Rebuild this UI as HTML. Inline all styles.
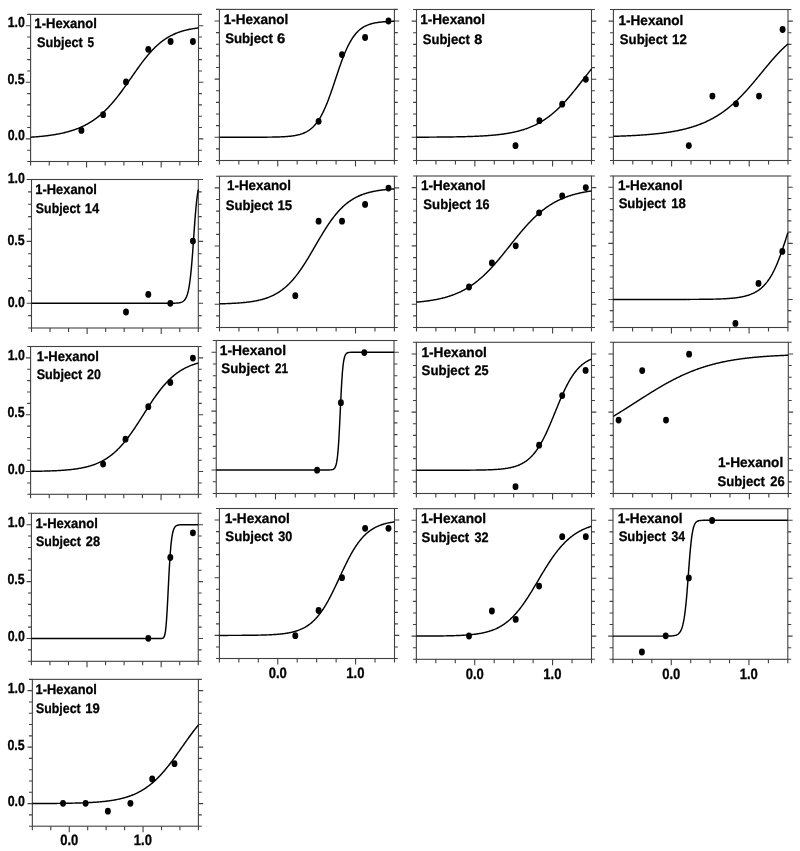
<!DOCTYPE html>
<html><head><meta charset="utf-8"><style>
html,body{margin:0;padding:0;background:#fff;}
svg{display:block;}
text{font-family:"Liberation Sans",sans-serif;font-weight:bold;fill:#000;text-rendering:geometricPrecision;stroke:#000;stroke-width:0.3px;stroke-linejoin:round;}
</style></head><body>
<svg width="800" height="851" viewBox="0 0 800 851">
<rect width="800" height="851" fill="#fff"/>
<g opacity="0.999">
<g><rect x="30.6" y="14.4" width="167.9" height="147.1" fill="none" stroke="#404040" stroke-width="1.1"/><path d="M27.2 161.5H30.6M198.5 161.5H201.9M27.2 150.18H30.6M198.5 150.18H201.9M25.8 138.87H30.6M198.5 138.87H203.3M27.2 127.55H30.6M198.5 127.55H201.9M27.2 116.24H30.6M198.5 116.24H201.9M27.2 104.92H30.6M198.5 104.92H201.9M27.2 93.61H30.6M198.5 93.61H201.9M25.8 82.29H30.6M198.5 82.29H203.3M27.2 70.98H30.6M198.5 70.98H201.9M27.2 59.66H30.6M198.5 59.66H201.9M27.2 48.35H30.6M198.5 48.35H201.9M27.2 37.03H30.6M198.5 37.03H201.9M25.8 25.72H30.6M198.5 25.72H203.3M27.2 14.4H30.6M198.5 14.4H201.9M30.6 161.5V165.5M49.26 161.5V165.5M67.91 161.5V165.5M86.57 161.5V167.5M105.22 161.5V165.5M123.88 161.5V165.5M142.53 161.5V165.5M161.19 161.5V167.5M179.84 161.5V165.5M198.5 161.5V165.5" stroke="#404040" stroke-width="1.1" fill="none"/><polyline points="30.6,137.21 31.16,137.17 31.72,137.13 32.28,137.09 32.84,137.05 33.4,137.01 33.96,136.97 34.52,136.93 35.08,136.89 35.64,136.85 36.2,136.8 36.76,136.75 37.32,136.71 37.88,136.66 38.44,136.61 39,136.56 39.55,136.51 40.11,136.46 40.67,136.4 41.23,136.35 41.79,136.29 42.35,136.24 42.91,136.18 43.47,136.12 44.03,136.06 44.59,136 45.15,135.93 45.71,135.87 46.27,135.8 46.83,135.73 47.39,135.67 47.95,135.59 48.51,135.52 49.07,135.45 49.63,135.37 50.19,135.3 50.75,135.22 51.31,135.14 51.87,135.05 52.43,134.97 52.99,134.88 53.55,134.8 54.11,134.71 54.67,134.61 55.23,134.52 55.78,134.43 56.34,134.33 56.9,134.23 57.46,134.13 58.02,134.02 58.58,133.91 59.14,133.81 59.7,133.69 60.26,133.58 60.82,133.46 61.38,133.35 61.94,133.22 62.5,133.1 63.06,132.97 63.62,132.85 64.18,132.71 64.74,132.58 65.3,132.44 65.86,132.3 66.42,132.16 66.98,132.01 67.54,131.86 68.1,131.71 68.66,131.55 69.22,131.39 69.78,131.23 70.34,131.06 70.9,130.89 71.46,130.72 72.02,130.54 72.58,130.36 73.13,130.18 73.69,129.99 74.25,129.79 74.81,129.6 75.37,129.4 75.93,129.19 76.49,128.98 77.05,128.77 77.61,128.55 78.17,128.33 78.73,128.1 79.29,127.87 79.85,127.63 80.41,127.39 80.97,127.15 81.53,126.9 82.09,126.64 82.65,126.38 83.21,126.11 83.77,125.84 84.33,125.56 84.89,125.28 85.45,124.99 86.01,124.7 86.57,124.4 87.13,124.09 87.69,123.78 88.25,123.46 88.81,123.14 89.37,122.81 89.92,122.47 90.48,122.13 91.04,121.78 91.6,121.42 92.16,121.06 92.72,120.69 93.28,120.32 93.84,119.93 94.4,119.54 94.96,119.14 95.52,118.74 96.08,118.33 96.64,117.91 97.2,117.48 97.76,117.05 98.32,116.61 98.88,116.16 99.44,115.7 100,115.24 100.56,114.76 101.12,114.28 101.68,113.8 102.24,113.3 102.8,112.79 103.36,112.28 103.92,111.76 104.48,111.23 105.04,110.7 105.6,110.15 106.16,109.6 106.71,109.04 107.27,108.47 107.83,107.89 108.39,107.31 108.95,106.71 109.51,106.11 110.07,105.5 110.63,104.88 111.19,104.26 111.75,103.63 112.31,102.98 112.87,102.33 113.43,101.68 113.99,101.01 114.55,100.34 115.11,99.66 115.67,98.97 116.23,98.28 116.79,97.58 117.35,96.87 117.91,96.16 118.47,95.43 119.03,94.71 119.59,93.97 120.15,93.23 120.71,92.49 121.27,91.73 121.83,90.98 122.39,90.22 122.94,89.45 123.5,88.68 124.06,87.9 124.62,87.12 125.18,86.34 125.74,85.55 126.3,84.76 126.86,83.97 127.42,83.17 127.98,82.37 128.54,81.57 129.1,80.77 129.66,79.96 130.22,79.16 130.78,78.35 131.34,77.55 131.9,76.74 132.46,75.94 133.02,75.13 133.58,74.33 134.14,73.52 134.7,72.72 135.26,71.92 135.82,71.13 136.38,70.33 136.94,69.54 137.5,68.76 138.06,67.97 138.62,67.2 139.18,66.42 139.74,65.65 140.29,64.89 140.85,64.13 141.41,63.37 141.97,62.63 142.53,61.88 143.09,61.15 143.65,60.42 144.21,59.7 144.77,58.99 145.33,58.28 145.89,57.58 146.45,56.89 147.01,56.21 147.57,55.54 148.13,54.87 148.69,54.21 149.25,53.56 149.81,52.93 150.37,52.3 150.93,51.67 151.49,51.06 152.05,50.46 152.61,49.87 153.17,49.29 153.73,48.71 154.29,48.15 154.85,47.59 155.41,47.05 155.97,46.52 156.53,45.99 157.08,45.48 157.64,44.97 158.2,44.47 158.76,43.99 159.32,43.51 159.88,43.05 160.44,42.59 161,42.14 161.56,41.7 162.12,41.28 162.68,40.86 163.24,40.45 163.8,40.04 164.36,39.65 164.92,39.27 165.48,38.9 166.04,38.53 166.6,38.17 167.16,37.82 167.72,37.48 168.28,37.15 168.84,36.83 169.4,36.51 169.96,36.2 170.52,35.9 171.08,35.61 171.64,35.33 172.2,35.05 172.76,34.78 173.31,34.51 173.87,34.26 174.43,34.01 174.99,33.76 175.55,33.52 176.11,33.29 176.67,33.07 177.23,32.85 177.79,32.64 178.35,32.43 178.91,32.23 179.47,32.04 180.03,31.85 180.59,31.66 181.15,31.48 181.71,31.31 182.27,31.14 182.83,30.97 183.39,30.81 183.95,30.66 184.51,30.51 185.07,30.36 185.63,30.22 186.19,30.08 186.75,29.95 187.31,29.82 187.87,29.69 188.43,29.57 188.99,29.45 189.55,29.33 190.1,29.22 190.66,29.11 191.22,29.01 191.78,28.91 192.34,28.81 192.9,28.71 193.46,28.62 194.02,28.53 194.58,28.44 195.14,28.35 195.7,28.27 196.26,28.19 196.82,28.11 197.38,28.04 197.94,27.96 198.5,27.89" fill="none" stroke="#000" stroke-width="1.45" stroke-linejoin="round"/><ellipse cx="81.4" cy="130.4" rx="2.95" ry="3.4" fill="#000"/><ellipse cx="103.1" cy="114.7" rx="2.95" ry="3.4" fill="#000"/><ellipse cx="126" cy="81.9" rx="2.95" ry="3.4" fill="#000"/><ellipse cx="148.3" cy="49.3" rx="2.95" ry="3.4" fill="#000"/><ellipse cx="170.6" cy="41.5" rx="2.95" ry="3.4" fill="#000"/><ellipse cx="192.9" cy="41.5" rx="2.95" ry="3.4" fill="#000"/><text transform="translate(34.36 28) scale(0.9474 1)" font-size="13.8">1-Hexanol</text><text transform="translate(36.94 46.6) scale(0.9212 1)" font-size="13.8">Subject</text><text transform="translate(87.58 46.6) scale(0.8528 1)" font-size="13.8">5</text><text transform="translate(7.65 140.47) scale(0.8500 1)" font-size="14.6">0.0</text><text transform="translate(7.47 83.89) scale(0.8500 1)" font-size="14.6">0.5</text><text transform="translate(7.65 27.32) scale(0.8500 1)" font-size="14.6">1.0</text></g>
<g><rect x="219.4" y="9.4" width="175" height="151.1" fill="none" stroke="#404040" stroke-width="1.1"/><path d="M216 160.5H219.4M394.4 160.5H397.8M216 148.88H219.4M394.4 148.88H397.8M214.6 137.25H219.4M394.4 137.25H399.2M216 125.63H219.4M394.4 125.63H397.8M216 114.01H219.4M394.4 114.01H397.8M216 102.38H219.4M394.4 102.38H397.8M216 90.76H219.4M394.4 90.76H397.8M214.6 79.14H219.4M394.4 79.14H399.2M216 67.52H219.4M394.4 67.52H397.8M216 55.89H219.4M394.4 55.89H397.8M216 44.27H219.4M394.4 44.27H397.8M216 32.65H219.4M394.4 32.65H397.8M214.6 21.02H219.4M394.4 21.02H399.2M216 9.4H219.4M394.4 9.4H397.8M219.4 160.5V164.5M238.84 160.5V164.5M258.29 160.5V164.5M277.73 160.5V166.5M297.18 160.5V164.5M316.62 160.5V164.5M336.07 160.5V164.5M355.51 160.5V166.5M374.96 160.5V164.5M394.4 160.5V164.5" stroke="#404040" stroke-width="1.1" fill="none"/><polyline points="219.4,137.25 219.98,137.25 220.57,137.25 221.15,137.25 221.73,137.25 222.32,137.25 222.9,137.25 223.48,137.25 224.07,137.25 224.65,137.25 225.23,137.25 225.82,137.25 226.4,137.25 226.98,137.25 227.57,137.25 228.15,137.25 228.73,137.25 229.32,137.25 229.9,137.25 230.48,137.25 231.07,137.25 231.65,137.25 232.23,137.25 232.82,137.25 233.4,137.25 233.98,137.25 234.57,137.25 235.15,137.25 235.73,137.25 236.32,137.25 236.9,137.25 237.48,137.25 238.07,137.25 238.65,137.25 239.23,137.25 239.82,137.25 240.4,137.25 240.98,137.25 241.57,137.25 242.15,137.25 242.73,137.25 243.32,137.25 243.9,137.25 244.48,137.24 245.07,137.24 245.65,137.24 246.23,137.24 246.82,137.24 247.4,137.24 247.98,137.24 248.57,137.24 249.15,137.24 249.73,137.24 250.32,137.24 250.9,137.24 251.48,137.23 252.07,137.23 252.65,137.23 253.23,137.23 253.82,137.23 254.4,137.23 254.98,137.23 255.57,137.22 256.15,137.22 256.73,137.22 257.32,137.22 257.9,137.22 258.48,137.21 259.07,137.21 259.65,137.21 260.23,137.21 260.82,137.2 261.4,137.2 261.98,137.2 262.57,137.19 263.15,137.19 263.73,137.19 264.32,137.18 264.9,137.18 265.48,137.17 266.07,137.17 266.65,137.16 267.23,137.16 267.82,137.15 268.4,137.14 268.98,137.14 269.57,137.13 270.15,137.12 270.73,137.11 271.32,137.1 271.9,137.1 272.48,137.09 273.07,137.07 273.65,137.06 274.23,137.05 274.82,137.04 275.4,137.03 275.98,137.01 276.57,137 277.15,136.98 277.73,136.96 278.32,136.95 278.9,136.93 279.48,136.91 280.07,136.88 280.65,136.86 281.23,136.84 281.82,136.81 282.4,136.78 282.98,136.75 283.57,136.72 284.15,136.69 284.73,136.66 285.32,136.62 285.9,136.58 286.48,136.54 287.07,136.49 287.65,136.45 288.23,136.4 288.82,136.34 289.4,136.29 289.98,136.23 290.57,136.16 291.15,136.1 291.73,136.02 292.32,135.95 292.9,135.87 293.48,135.78 294.07,135.69 294.65,135.6 295.23,135.49 295.82,135.39 296.4,135.27 296.98,135.15 297.57,135.02 298.15,134.89 298.73,134.74 299.32,134.59 299.9,134.43 300.48,134.25 301.07,134.07 301.65,133.88 302.23,133.68 302.82,133.46 303.4,133.23 303.98,132.99 304.57,132.73 305.15,132.46 305.73,132.18 306.32,131.88 306.9,131.56 307.48,131.22 308.07,130.87 308.65,130.49 309.23,130.09 309.82,129.68 310.4,129.24 310.98,128.77 311.57,128.29 312.15,127.77 312.73,127.23 313.32,126.66 313.9,126.07 314.48,125.44 315.07,124.78 315.65,124.09 316.23,123.37 316.82,122.61 317.4,121.82 317.98,121 318.57,120.13 319.15,119.23 319.73,118.29 320.32,117.31 320.9,116.29 321.48,115.23 322.07,114.13 322.65,112.99 323.23,111.81 323.82,110.58 324.4,109.32 324.98,108.02 325.57,106.67 326.15,105.29 326.73,103.87 327.32,102.41 327.9,100.92 328.48,99.39 329.07,97.83 329.65,96.24 330.23,94.62 330.82,92.98 331.4,91.31 331.98,89.62 332.57,87.91 333.15,86.18 333.73,84.45 334.32,82.7 334.9,80.94 335.48,79.19 336.07,77.43 336.65,75.68 337.23,73.93 337.82,72.19 338.4,70.46 338.98,68.75 339.57,67.06 340.15,65.39 340.73,63.75 341.32,62.12 341.9,60.53 342.48,58.97 343.07,57.44 343.65,55.95 344.23,54.49 344.82,53.06 345.4,51.68 345.98,50.33 346.57,49.03 347.15,47.76 347.73,46.54 348.32,45.35 348.9,44.21 349.48,43.11 350.07,42.05 350.65,41.02 351.23,40.04 351.82,39.1 352.4,38.2 352.98,37.33 353.57,36.5 354.15,35.71 354.73,34.95 355.32,34.22 355.9,33.53 356.48,32.87 357.07,32.24 357.65,31.65 358.23,31.08 358.82,30.53 359.4,30.02 359.98,29.53 360.57,29.07 361.15,28.62 361.73,28.21 362.32,27.81 362.9,27.43 363.48,27.08 364.07,26.74 364.65,26.42 365.23,26.12 365.82,25.83 366.4,25.56 366.98,25.3 367.57,25.06 368.15,24.83 368.73,24.61 369.32,24.41 369.9,24.22 370.48,24.03 371.07,23.86 371.65,23.7 372.23,23.54 372.82,23.4 373.4,23.26 373.98,23.13 374.57,23.01 375.15,22.9 375.73,22.79 376.32,22.69 376.9,22.59 377.48,22.5 378.07,22.41 378.65,22.33 379.23,22.26 379.82,22.19 380.4,22.12 380.98,22.05 381.57,21.99 382.15,21.94 382.73,21.88 383.32,21.83 383.9,21.79 384.48,21.74 385.07,21.7 385.65,21.66 386.23,21.62 386.82,21.59 387.4,21.56 387.98,21.52 388.57,21.49 389.15,21.47 389.73,21.44 390.32,21.42 390.9,21.39 391.48,21.37 392.07,21.35 392.65,21.33 393.23,21.31 393.82,21.3 394.4,21.28" fill="none" stroke="#000" stroke-width="1.45" stroke-linejoin="round"/><ellipse cx="318.6" cy="121.3" rx="2.95" ry="3.4" fill="#000"/><ellipse cx="342" cy="54.6" rx="2.95" ry="3.4" fill="#000"/><ellipse cx="365.1" cy="37.5" rx="2.95" ry="3.4" fill="#000"/><ellipse cx="388.5" cy="21" rx="2.95" ry="3.4" fill="#000"/><text transform="translate(223.63 24) scale(0.9802 1)" font-size="13.8">1-Hexanol</text><text transform="translate(225.22 42.9) scale(0.9557 1)" font-size="13.8">Subject</text><text transform="translate(277.07 42.9) scale(1.0742 1)" font-size="13.8">6</text></g>
<g><rect x="416.5" y="9.5" width="175" height="151" fill="none" stroke="#404040" stroke-width="1.1"/><path d="M413.1 160.5H416.5M591.5 160.5H594.9M413.1 148.88H416.5M591.5 148.88H594.9M411.7 137.27H416.5M591.5 137.27H596.3M413.1 125.65H416.5M591.5 125.65H594.9M413.1 114.04H416.5M591.5 114.04H594.9M413.1 102.42H416.5M591.5 102.42H594.9M413.1 90.81H416.5M591.5 90.81H594.9M411.7 79.19H416.5M591.5 79.19H596.3M413.1 67.58H416.5M591.5 67.58H594.9M413.1 55.96H416.5M591.5 55.96H594.9M413.1 44.35H416.5M591.5 44.35H594.9M413.1 32.73H416.5M591.5 32.73H594.9M411.7 21.12H416.5M591.5 21.12H596.3M413.1 9.5H416.5M591.5 9.5H594.9M416.5 160.5V164.5M435.94 160.5V164.5M455.39 160.5V164.5M474.83 160.5V166.5M494.28 160.5V164.5M513.72 160.5V164.5M533.17 160.5V164.5M552.61 160.5V166.5M572.06 160.5V164.5M591.5 160.5V164.5" stroke="#404040" stroke-width="1.1" fill="none"/><polyline points="416.5,137.2 417.08,137.2 417.67,137.19 418.25,137.19 418.83,137.19 419.42,137.19 420,137.19 420.58,137.18 421.17,137.18 421.75,137.18 422.33,137.18 422.92,137.17 423.5,137.17 424.08,137.17 424.67,137.17 425.25,137.16 425.83,137.16 426.42,137.16 427,137.15 427.58,137.15 428.17,137.15 428.75,137.15 429.33,137.14 429.92,137.14 430.5,137.14 431.08,137.13 431.67,137.13 432.25,137.13 432.83,137.12 433.42,137.12 434,137.11 434.58,137.11 435.17,137.11 435.75,137.1 436.33,137.1 436.92,137.09 437.5,137.09 438.08,137.08 438.67,137.08 439.25,137.07 439.83,137.07 440.42,137.06 441,137.06 441.58,137.05 442.17,137.05 442.75,137.04 443.33,137.03 443.92,137.03 444.5,137.02 445.08,137.02 445.67,137.01 446.25,137 446.83,136.99 447.42,136.99 448,136.98 448.58,136.97 449.17,136.96 449.75,136.96 450.33,136.95 450.92,136.94 451.5,136.93 452.08,136.92 452.67,136.91 453.25,136.9 453.83,136.9 454.42,136.89 455,136.88 455.58,136.87 456.17,136.85 456.75,136.84 457.33,136.83 457.92,136.82 458.5,136.81 459.08,136.8 459.67,136.79 460.25,136.77 460.83,136.76 461.42,136.75 462,136.73 462.58,136.72 463.17,136.71 463.75,136.69 464.33,136.68 464.92,136.66 465.5,136.64 466.08,136.63 466.67,136.61 467.25,136.59 467.83,136.58 468.42,136.56 469,136.54 469.58,136.52 470.17,136.5 470.75,136.48 471.33,136.46 471.92,136.44 472.5,136.42 473.08,136.4 473.67,136.37 474.25,136.35 474.83,136.33 475.42,136.3 476,136.28 476.58,136.25 477.17,136.23 477.75,136.2 478.33,136.17 478.92,136.14 479.5,136.11 480.08,136.08 480.67,136.05 481.25,136.02 481.83,135.99 482.42,135.96 483,135.92 483.58,135.89 484.17,135.85 484.75,135.81 485.33,135.78 485.92,135.74 486.5,135.7 487.08,135.66 487.67,135.62 488.25,135.57 488.83,135.53 489.42,135.49 490,135.44 490.58,135.39 491.17,135.34 491.75,135.29 492.33,135.24 492.92,135.19 493.5,135.14 494.08,135.08 494.67,135.03 495.25,134.97 495.83,134.91 496.42,134.85 497,134.79 497.58,134.73 498.17,134.66 498.75,134.59 499.33,134.53 499.92,134.46 500.5,134.38 501.08,134.31 501.67,134.23 502.25,134.16 502.83,134.08 503.42,134 504,133.91 504.58,133.83 505.17,133.74 505.75,133.65 506.33,133.56 506.92,133.47 507.5,133.37 508.08,133.27 508.67,133.17 509.25,133.07 509.83,132.96 510.42,132.85 511,132.74 511.58,132.63 512.17,132.51 512.75,132.39 513.33,132.27 513.92,132.15 514.5,132.02 515.08,131.89 515.67,131.75 516.25,131.62 516.83,131.48 517.42,131.33 518,131.19 518.58,131.04 519.17,130.88 519.75,130.72 520.33,130.56 520.92,130.4 521.5,130.23 522.08,130.06 522.67,129.88 523.25,129.7 523.83,129.51 524.42,129.32 525,129.13 525.58,128.93 526.17,128.73 526.75,128.53 527.33,128.31 527.92,128.1 528.5,127.88 529.08,127.65 529.67,127.42 530.25,127.19 530.83,126.95 531.42,126.7 532,126.45 532.58,126.2 533.17,125.93 533.75,125.67 534.33,125.39 534.92,125.12 535.5,124.83 536.08,124.54 536.67,124.25 537.25,123.95 537.83,123.64 538.42,123.33 539,123.01 539.58,122.68 540.17,122.35 540.75,122.01 541.33,121.66 541.92,121.31 542.5,120.95 543.08,120.59 543.67,120.21 544.25,119.83 544.83,119.45 545.42,119.06 546,118.66 546.58,118.25 547.17,117.83 547.75,117.41 548.33,116.98 548.92,116.55 549.5,116.11 550.08,115.65 550.67,115.2 551.25,114.73 551.83,114.26 552.42,113.78 553,113.29 553.58,112.8 554.17,112.29 554.75,111.78 555.33,111.27 555.92,110.74 556.5,110.21 557.08,109.67 557.67,109.12 558.25,108.57 558.83,108.01 559.42,107.44 560,106.86 560.58,106.28 561.17,105.69 561.75,105.09 562.33,104.49 562.92,103.88 563.5,103.26 564.08,102.64 564.67,102.01 565.25,101.37 565.83,100.72 566.42,100.07 567,99.42 567.58,98.76 568.17,98.09 568.75,97.42 569.33,96.74 569.92,96.05 570.5,95.37 571.08,94.67 571.67,93.97 572.25,93.27 572.83,92.56 573.42,91.85 574,91.13 574.58,90.41 575.17,89.69 575.75,88.96 576.33,88.23 576.92,87.5 577.5,86.76 578.08,86.03 578.67,85.29 579.25,84.54 579.83,83.8 580.42,83.05 581,82.31 581.58,81.56 582.17,80.81 582.75,80.06 583.33,79.31 583.92,78.56 584.5,77.81 585.08,77.06 585.67,76.31 586.25,75.57 586.83,74.82 587.42,74.08 588,73.33 588.58,72.59 589.17,71.85 589.75,71.12 590.33,70.38 590.92,69.65 591.5,68.92" fill="none" stroke="#000" stroke-width="1.45" stroke-linejoin="round"/><ellipse cx="515.5" cy="145.7" rx="2.95" ry="3.4" fill="#000"/><ellipse cx="539.4" cy="120.7" rx="2.95" ry="3.4" fill="#000"/><ellipse cx="562.2" cy="104.2" rx="2.95" ry="3.4" fill="#000"/><ellipse cx="585.8" cy="79.3" rx="2.95" ry="3.4" fill="#000"/><text transform="translate(420.23 24) scale(0.9833 1)" font-size="13.8">1-Hexanol</text><text transform="translate(422.73 43.75) scale(0.9455 1)" font-size="13.8">Subject</text><text transform="translate(474.19 43.75) scale(1.0435 1)" font-size="13.8">8</text></g>
<g><rect x="613.4" y="9.5" width="174.6" height="151" fill="none" stroke="#404040" stroke-width="1.1"/><path d="M610 160.5H613.4M788 160.5H791.4M610 148.88H613.4M788 148.88H791.4M608.6 137.27H613.4M788 137.27H792.8M610 125.65H613.4M788 125.65H791.4M610 114.04H613.4M788 114.04H791.4M610 102.42H613.4M788 102.42H791.4M610 90.81H613.4M788 90.81H791.4M608.6 79.19H613.4M788 79.19H792.8M610 67.58H613.4M788 67.58H791.4M610 55.96H613.4M788 55.96H791.4M610 44.35H613.4M788 44.35H791.4M610 32.73H613.4M788 32.73H791.4M608.6 21.12H613.4M788 21.12H792.8M610 9.5H613.4M788 9.5H791.4M613.4 160.5V164.5M632.8 160.5V164.5M652.2 160.5V164.5M671.6 160.5V166.5M691 160.5V164.5M710.4 160.5V164.5M729.8 160.5V164.5M749.2 160.5V166.5M768.6 160.5V164.5M788 160.5V164.5" stroke="#404040" stroke-width="1.1" fill="none"/><polyline points="613.4,136.33 613.98,136.31 614.56,136.3 615.15,136.28 615.73,136.26 616.31,136.24 616.89,136.22 617.47,136.21 618.06,136.19 618.64,136.17 619.22,136.15 619.8,136.13 620.38,136.11 620.97,136.09 621.55,136.06 622.13,136.04 622.71,136.02 623.29,136 623.88,135.98 624.46,135.95 625.04,135.93 625.62,135.91 626.2,135.88 626.79,135.86 627.37,135.83 627.95,135.8 628.53,135.78 629.11,135.75 629.7,135.72 630.28,135.7 630.86,135.67 631.44,135.64 632.02,135.61 632.61,135.58 633.19,135.55 633.77,135.52 634.35,135.49 634.93,135.46 635.52,135.42 636.1,135.39 636.68,135.36 637.26,135.32 637.84,135.29 638.43,135.25 639.01,135.22 639.59,135.18 640.17,135.14 640.75,135.11 641.34,135.07 641.92,135.03 642.5,134.99 643.08,134.95 643.66,134.9 644.25,134.86 644.83,134.82 645.41,134.78 645.99,134.73 646.57,134.68 647.16,134.64 647.74,134.59 648.32,134.54 648.9,134.5 649.48,134.45 650.07,134.39 650.65,134.34 651.23,134.29 651.81,134.24 652.39,134.18 652.98,134.13 653.56,134.07 654.14,134.02 654.72,133.96 655.3,133.9 655.89,133.84 656.47,133.78 657.05,133.71 657.63,133.65 658.21,133.59 658.8,133.52 659.38,133.45 659.96,133.38 660.54,133.32 661.12,133.24 661.71,133.17 662.29,133.1 662.87,133.03 663.45,132.95 664.03,132.87 664.62,132.79 665.2,132.71 665.78,132.63 666.36,132.55 666.94,132.47 667.53,132.38 668.11,132.29 668.69,132.2 669.27,132.11 669.85,132.02 670.44,131.93 671.02,131.83 671.6,131.74 672.18,131.64 672.76,131.54 673.35,131.44 673.93,131.33 674.51,131.23 675.09,131.12 675.67,131.01 676.26,130.9 676.84,130.79 677.42,130.67 678,130.55 678.58,130.43 679.17,130.31 679.75,130.19 680.33,130.06 680.91,129.94 681.49,129.81 682.08,129.67 682.66,129.54 683.24,129.4 683.82,129.26 684.4,129.12 684.99,128.98 685.57,128.83 686.15,128.68 686.73,128.53 687.31,128.37 687.9,128.22 688.48,128.06 689.06,127.9 689.64,127.73 690.22,127.56 690.81,127.39 691.39,127.22 691.97,127.04 692.55,126.86 693.13,126.68 693.72,126.49 694.3,126.3 694.88,126.11 695.46,125.91 696.04,125.71 696.63,125.51 697.21,125.31 697.79,125.1 698.37,124.88 698.95,124.67 699.54,124.45 700.12,124.23 700.7,124 701.28,123.77 701.86,123.53 702.45,123.29 703.03,123.05 703.61,122.8 704.19,122.55 704.77,122.3 705.36,122.04 705.94,121.78 706.52,121.51 707.1,121.24 707.68,120.96 708.27,120.68 708.85,120.4 709.43,120.11 710.01,119.81 710.59,119.52 711.18,119.21 711.76,118.9 712.34,118.59 712.92,118.27 713.5,117.95 714.09,117.62 714.67,117.29 715.25,116.95 715.83,116.61 716.41,116.26 717,115.91 717.58,115.55 718.16,115.19 718.74,114.82 719.32,114.44 719.91,114.06 720.49,113.68 721.07,113.28 721.65,112.89 722.23,112.48 722.82,112.08 723.4,111.66 723.98,111.24 724.56,110.82 725.14,110.39 725.73,109.95 726.31,109.51 726.89,109.06 727.47,108.6 728.05,108.14 728.64,107.67 729.22,107.2 729.8,106.72 730.38,106.24 730.96,105.75 731.55,105.25 732.13,104.75 732.71,104.24 733.29,103.72 733.87,103.2 734.46,102.67 735.04,102.14 735.62,101.6 736.2,101.05 736.78,100.5 737.37,99.95 737.95,99.38 738.53,98.81 739.11,98.24 739.69,97.66 740.28,97.07 740.86,96.48 741.44,95.88 742.02,95.28 742.6,94.67 743.19,94.06 743.77,93.44 744.35,92.82 744.93,92.19 745.51,91.56 746.1,90.92 746.68,90.27 747.26,89.63 747.84,88.97 748.42,88.32 749.01,87.66 749.59,86.99 750.17,86.32 750.75,85.65 751.33,84.97 751.92,84.29 752.5,83.61 753.08,82.93 753.66,82.24 754.24,81.54 754.83,80.85 755.41,80.15 755.99,79.45 756.57,78.75 757.15,78.05 757.74,77.35 758.32,76.64 758.9,75.93 759.48,75.23 760.06,74.52 760.65,73.81 761.23,73.1 761.81,72.39 762.39,71.68 762.97,70.97 763.56,70.27 764.14,69.56 764.72,68.85 765.3,68.15 765.88,67.45 766.47,66.75 767.05,66.05 767.63,65.35 768.21,64.66 768.79,63.96 769.38,63.28 769.96,62.59 770.54,61.91 771.12,61.23 771.7,60.56 772.29,59.89 772.87,59.22 773.45,58.56 774.03,57.9 774.61,57.25 775.2,56.6 775.78,55.96 776.36,55.32 776.94,54.69 777.52,54.07 778.11,53.45 778.69,52.83 779.27,52.22 779.85,51.62 780.43,51.03 781.02,50.44 781.6,49.86 782.18,49.28 782.76,48.71 783.34,48.15 783.93,47.6 784.51,47.05 785.09,46.51 785.67,45.98 786.25,45.45 786.84,44.94 787.42,44.42 788,43.92" fill="none" stroke="#000" stroke-width="1.45" stroke-linejoin="round"/><ellipse cx="688.8" cy="145.6" rx="2.95" ry="3.4" fill="#000"/><ellipse cx="712.4" cy="96.1" rx="2.95" ry="3.4" fill="#000"/><ellipse cx="736" cy="103.8" rx="2.95" ry="3.4" fill="#000"/><ellipse cx="759" cy="96.1" rx="2.95" ry="3.4" fill="#000"/><ellipse cx="782.6" cy="29.5" rx="2.95" ry="3.4" fill="#000"/><text transform="translate(618.43 24.7) scale(0.9848 1)" font-size="13.8">1-Hexanol</text><text transform="translate(619.82 43.7) scale(0.9536 1)" font-size="13.8">Subject</text><text transform="translate(672.05 43.7) scale(0.9569 1)" font-size="13.8">12</text></g>
<g><rect x="31.5" y="179.5" width="166.8" height="148.5" fill="none" stroke="#404040" stroke-width="1.1"/><path d="M28.1 328H31.5M198.3 328H201.7M28.1 315.62H31.5M198.3 315.62H201.7M26.7 303.25H31.5M198.3 303.25H203.1M28.1 290.88H31.5M198.3 290.88H201.7M28.1 278.5H31.5M198.3 278.5H201.7M28.1 266.12H31.5M198.3 266.12H201.7M28.1 253.75H31.5M198.3 253.75H201.7M26.7 241.38H31.5M198.3 241.38H203.1M28.1 229H31.5M198.3 229H201.7M28.1 216.62H31.5M198.3 216.62H201.7M28.1 204.25H31.5M198.3 204.25H201.7M28.1 191.88H31.5M198.3 191.88H201.7M26.7 179.5H31.5M198.3 179.5H203.1M31.5 328V332M50.03 328V332M68.57 328V332M87.1 328V334M105.63 328V332M124.17 328V332M142.7 328V332M161.23 328V334M179.77 328V332M198.3 328V332" stroke="#404040" stroke-width="1.1" fill="none"/><polyline points="31.5,303.25 32.06,303.25 32.61,303.25 33.17,303.25 33.72,303.25 34.28,303.25 34.84,303.25 35.39,303.25 35.95,303.25 36.5,303.25 37.06,303.25 37.62,303.25 38.17,303.25 38.73,303.25 39.28,303.25 39.84,303.25 40.4,303.25 40.95,303.25 41.51,303.25 42.06,303.25 42.62,303.25 43.18,303.25 43.73,303.25 44.29,303.25 44.84,303.25 45.4,303.25 45.96,303.25 46.51,303.25 47.07,303.25 47.62,303.25 48.18,303.25 48.74,303.25 49.29,303.25 49.85,303.25 50.4,303.25 50.96,303.25 51.52,303.25 52.07,303.25 52.63,303.25 53.18,303.25 53.74,303.25 54.3,303.25 54.85,303.25 55.41,303.25 55.96,303.25 56.52,303.25 57.08,303.25 57.63,303.25 58.19,303.25 58.74,303.25 59.3,303.25 59.86,303.25 60.41,303.25 60.97,303.25 61.52,303.25 62.08,303.25 62.64,303.25 63.19,303.25 63.75,303.25 64.3,303.25 64.86,303.25 65.42,303.25 65.97,303.25 66.53,303.25 67.08,303.25 67.64,303.25 68.2,303.25 68.75,303.25 69.31,303.25 69.86,303.25 70.42,303.25 70.98,303.25 71.53,303.25 72.09,303.25 72.64,303.25 73.2,303.25 73.76,303.25 74.31,303.25 74.87,303.25 75.42,303.25 75.98,303.25 76.54,303.25 77.09,303.25 77.65,303.25 78.2,303.25 78.76,303.25 79.32,303.25 79.87,303.25 80.43,303.25 80.98,303.25 81.54,303.25 82.1,303.25 82.65,303.25 83.21,303.25 83.76,303.25 84.32,303.25 84.88,303.25 85.43,303.25 85.99,303.25 86.54,303.25 87.1,303.25 87.66,303.25 88.21,303.25 88.77,303.25 89.32,303.25 89.88,303.25 90.44,303.25 90.99,303.25 91.55,303.25 92.1,303.25 92.66,303.25 93.22,303.25 93.77,303.25 94.33,303.25 94.88,303.25 95.44,303.25 96,303.25 96.55,303.25 97.11,303.25 97.66,303.25 98.22,303.25 98.78,303.25 99.33,303.25 99.89,303.25 100.44,303.25 101,303.25 101.56,303.25 102.11,303.25 102.67,303.25 103.22,303.25 103.78,303.25 104.34,303.25 104.89,303.25 105.45,303.25 106,303.25 106.56,303.25 107.12,303.25 107.67,303.25 108.23,303.25 108.78,303.25 109.34,303.25 109.9,303.25 110.45,303.25 111.01,303.25 111.56,303.25 112.12,303.25 112.68,303.25 113.23,303.25 113.79,303.25 114.34,303.25 114.9,303.25 115.46,303.25 116.01,303.25 116.57,303.25 117.12,303.25 117.68,303.25 118.24,303.25 118.79,303.25 119.35,303.25 119.9,303.25 120.46,303.25 121.02,303.25 121.57,303.25 122.13,303.25 122.68,303.25 123.24,303.25 123.8,303.25 124.35,303.25 124.91,303.25 125.46,303.25 126.02,303.25 126.58,303.25 127.13,303.25 127.69,303.25 128.24,303.25 128.8,303.25 129.36,303.25 129.91,303.25 130.47,303.25 131.02,303.25 131.58,303.25 132.14,303.25 132.69,303.25 133.25,303.25 133.8,303.25 134.36,303.25 134.92,303.25 135.47,303.25 136.03,303.25 136.58,303.25 137.14,303.25 137.7,303.25 138.25,303.25 138.81,303.25 139.36,303.25 139.92,303.25 140.48,303.25 141.03,303.25 141.59,303.25 142.14,303.25 142.7,303.25 143.26,303.25 143.81,303.25 144.37,303.25 144.92,303.25 145.48,303.25 146.04,303.25 146.59,303.25 147.15,303.25 147.7,303.25 148.26,303.25 148.82,303.25 149.37,303.25 149.93,303.25 150.48,303.25 151.04,303.25 151.6,303.25 152.15,303.25 152.71,303.25 153.26,303.25 153.82,303.25 154.38,303.25 154.93,303.25 155.49,303.25 156.04,303.25 156.6,303.25 157.16,303.25 157.71,303.25 158.27,303.25 158.82,303.25 159.38,303.25 159.94,303.25 160.49,303.25 161.05,303.25 161.6,303.25 162.16,303.25 162.72,303.25 163.27,303.25 163.83,303.25 164.38,303.25 164.94,303.25 165.5,303.25 166.05,303.25 166.61,303.25 167.16,303.24 167.72,303.24 168.28,303.24 168.83,303.24 169.39,303.24 169.94,303.24 170.5,303.23 171.06,303.23 171.61,303.22 172.17,303.22 172.72,303.21 173.28,303.2 173.84,303.19 174.39,303.18 174.95,303.16 175.5,303.14 176.06,303.11 176.62,303.08 177.17,303.04 177.73,303 178.28,302.94 178.84,302.87 179.4,302.78 179.95,302.67 180.51,302.54 181.06,302.38 181.62,302.18 182.18,301.93 182.73,301.63 183.29,301.26 183.84,300.8 184.4,300.25 184.96,299.56 185.51,298.72 186.07,297.7 186.62,296.44 187.18,294.92 187.74,293.06 188.29,290.81 188.85,288.1 189.4,284.85 189.96,280.98 190.52,276.44 191.07,271.18 191.63,265.16 192.18,258.44 192.74,251.1 193.3,243.32 193.85,235.32 194.41,227.37 194.96,219.76 195.52,212.73 196.08,206.45 196.63,201.02 197.19,196.45 197.74,192.7 198.3,189.69" fill="none" stroke="#000" stroke-width="1.45" stroke-linejoin="round"/><ellipse cx="126" cy="312" rx="2.95" ry="3.4" fill="#000"/><ellipse cx="148.3" cy="294.4" rx="2.95" ry="3.4" fill="#000"/><ellipse cx="170.3" cy="303.3" rx="2.95" ry="3.4" fill="#000"/><ellipse cx="192.9" cy="241.1" rx="2.95" ry="3.4" fill="#000"/><text transform="translate(35.37 194.4) scale(0.9333 1)" font-size="13.8">1-Hexanol</text><text transform="translate(35.85 213.1) scale(0.8948 1)" font-size="13.8">Subject</text><text transform="translate(84.87 213.1) scale(0.9381 1)" font-size="13.8">14</text><text transform="translate(7.65 306.55) scale(0.8500 1)" font-size="14.6">0.0</text><text transform="translate(7.47 244.68) scale(0.8500 1)" font-size="14.6">0.5</text><text transform="translate(7.65 182.8) scale(0.8500 1)" font-size="14.6">1.0</text></g>
<g><rect x="219.5" y="176.2" width="174.9" height="151.3" fill="none" stroke="#404040" stroke-width="1.1"/><path d="M216.1 327.5H219.5M394.4 327.5H397.8M216.1 315.86H219.5M394.4 315.86H397.8M214.7 304.22H219.5M394.4 304.22H399.2M216.1 292.58H219.5M394.4 292.58H397.8M216.1 280.95H219.5M394.4 280.95H397.8M216.1 269.31H219.5M394.4 269.31H397.8M216.1 257.67H219.5M394.4 257.67H397.8M214.7 246.03H219.5M394.4 246.03H399.2M216.1 234.39H219.5M394.4 234.39H397.8M216.1 222.75H219.5M394.4 222.75H397.8M216.1 211.12H219.5M394.4 211.12H397.8M216.1 199.48H219.5M394.4 199.48H397.8M214.7 187.84H219.5M394.4 187.84H399.2M216.1 176.2H219.5M394.4 176.2H397.8M219.5 327.5V331.5M238.93 327.5V331.5M258.37 327.5V331.5M277.8 327.5V333.5M297.23 327.5V331.5M316.67 327.5V331.5M336.1 327.5V331.5M355.53 327.5V333.5M374.97 327.5V331.5M394.4 327.5V331.5" stroke="#404040" stroke-width="1.1" fill="none"/><polyline points="219.5,303.82 220.08,303.81 220.67,303.79 221.25,303.78 221.83,303.76 222.41,303.75 223,303.73 223.58,303.71 224.16,303.7 224.75,303.68 225.33,303.66 225.91,303.64 226.5,303.62 227.08,303.6 227.66,303.57 228.25,303.55 228.83,303.53 229.41,303.5 229.99,303.48 230.58,303.45 231.16,303.43 231.74,303.4 232.33,303.37 232.91,303.34 233.49,303.31 234.07,303.28 234.66,303.24 235.24,303.21 235.82,303.18 236.41,303.14 236.99,303.1 237.57,303.06 238.16,303.02 238.74,302.98 239.32,302.94 239.91,302.89 240.49,302.85 241.07,302.8 241.65,302.75 242.24,302.7 242.82,302.64 243.4,302.59 243.99,302.53 244.57,302.48 245.15,302.41 245.73,302.35 246.32,302.29 246.9,302.22 247.48,302.15 248.07,302.08 248.65,302.01 249.23,301.93 249.82,301.85 250.4,301.77 250.98,301.69 251.56,301.6 252.15,301.51 252.73,301.42 253.31,301.32 253.9,301.22 254.48,301.12 255.06,301.01 255.65,300.9 256.23,300.79 256.81,300.67 257.39,300.55 257.98,300.43 258.56,300.3 259.14,300.16 259.73,300.03 260.31,299.88 260.89,299.74 261.48,299.59 262.06,299.43 262.64,299.27 263.23,299.1 263.81,298.93 264.39,298.75 264.97,298.57 265.56,298.38 266.14,298.19 266.72,297.99 267.31,297.78 267.89,297.57 268.47,297.35 269.06,297.12 269.64,296.89 270.22,296.65 270.8,296.4 271.39,296.14 271.97,295.88 272.55,295.61 273.14,295.33 273.72,295.04 274.3,294.74 274.88,294.44 275.47,294.12 276.05,293.8 276.63,293.47 277.22,293.13 277.8,292.77 278.38,292.41 278.97,292.04 279.55,291.66 280.13,291.27 280.71,290.87 281.3,290.45 281.88,290.03 282.46,289.59 283.05,289.14 283.63,288.68 284.21,288.21 284.8,287.73 285.38,287.24 285.96,286.73 286.54,286.21 287.13,285.68 287.71,285.13 288.29,284.58 288.88,284.01 289.46,283.42 290.04,282.83 290.63,282.22 291.21,281.59 291.79,280.96 292.38,280.31 292.96,279.65 293.54,278.97 294.12,278.28 294.71,277.58 295.29,276.86 295.87,276.13 296.46,275.39 297.04,274.64 297.62,273.87 298.2,273.09 298.79,272.29 299.37,271.49 299.95,270.67 300.54,269.84 301.12,269 301.7,268.14 302.29,267.28 302.87,266.4 303.45,265.51 304.03,264.62 304.62,263.71 305.2,262.79 305.78,261.87 306.37,260.93 306.95,259.99 307.53,259.04 308.12,258.08 308.7,257.12 309.28,256.15 309.87,255.17 310.45,254.19 311.03,253.2 311.61,252.21 312.2,251.21 312.78,250.22 313.36,249.22 313.95,248.21 314.53,247.21 315.11,246.21 315.69,245.2 316.28,244.2 316.86,243.19 317.44,242.19 318.03,241.19 318.61,240.2 319.19,239.21 319.78,238.22 320.36,237.23 320.94,236.25 321.52,235.28 322.11,234.31 322.69,233.35 323.27,232.4 323.86,231.45 324.44,230.52 325.02,229.59 325.61,228.67 326.19,227.76 326.77,226.86 327.36,225.97 327.94,225.09 328.52,224.22 329.1,223.36 329.69,222.51 330.27,221.68 330.85,220.86 331.44,220.05 332.02,219.25 332.6,218.46 333.18,217.69 333.77,216.93 334.35,216.18 334.93,215.45 335.52,214.73 336.1,214.02 336.68,213.33 337.27,212.65 337.85,211.98 338.43,211.33 339.01,210.69 339.6,210.06 340.18,209.45 340.76,208.84 341.35,208.26 341.93,207.68 342.51,207.12 343.1,206.57 343.68,206.03 344.26,205.51 344.84,205 345.43,204.5 346.01,204.01 346.59,203.54 347.18,203.08 347.76,202.62 348.34,202.18 348.93,201.76 349.51,201.34 350.09,200.93 350.67,200.54 351.26,200.15 351.84,199.78 352.42,199.41 353.01,199.06 353.59,198.71 354.17,198.38 354.76,198.05 355.34,197.73 355.92,197.42 356.5,197.12 357.09,196.83 357.67,196.55 358.25,196.28 358.84,196.01 359.42,195.75 360,195.5 360.59,195.26 361.17,195.02 361.75,194.79 362.33,194.57 362.92,194.35 363.5,194.15 364.08,193.94 364.67,193.75 365.25,193.56 365.83,193.37 366.42,193.19 367,193.02 367.58,192.85 368.16,192.69 368.75,192.53 369.33,192.38 369.91,192.23 370.5,192.08 371.08,191.95 371.66,191.81 372.25,191.68 372.83,191.55 373.41,191.43 374,191.31 374.58,191.2 375.16,191.09 375.74,190.98 376.33,190.88 376.91,190.78 377.49,190.68 378.08,190.59 378.66,190.49 379.24,190.41 379.82,190.32 380.41,190.24 380.99,190.16 381.57,190.08 382.16,190.01 382.74,189.93 383.32,189.86 383.91,189.8 384.49,189.73 385.07,189.67 385.65,189.61 386.24,189.55 386.82,189.49 387.4,189.44 387.99,189.38 388.57,189.33 389.15,189.28 389.74,189.23 390.32,189.19 390.9,189.14 391.49,189.1 392.07,189.05 392.65,189.01 393.23,188.97 393.82,188.94 394.4,188.9" fill="none" stroke="#000" stroke-width="1.45" stroke-linejoin="round"/><ellipse cx="295.3" cy="295.7" rx="2.95" ry="3.4" fill="#000"/><ellipse cx="318.6" cy="221.2" rx="2.95" ry="3.4" fill="#000"/><ellipse cx="342" cy="221.2" rx="2.95" ry="3.4" fill="#000"/><ellipse cx="365.1" cy="204.4" rx="2.95" ry="3.4" fill="#000"/><ellipse cx="388.5" cy="188.1" rx="2.95" ry="3.4" fill="#000"/><text transform="translate(227.04 189.9) scale(0.9692 1)" font-size="13.8">1-Hexanol</text><text transform="translate(225.73 209.7) scale(0.9496 1)" font-size="13.8">Subject</text><text transform="translate(277.45 209.7) scale(0.9577 1)" font-size="13.8">15</text></g>
<g><rect x="416.5" y="176" width="175" height="151.5" fill="none" stroke="#404040" stroke-width="1.1"/><path d="M413.1 327.5H416.5M591.5 327.5H594.9M413.1 315.85H416.5M591.5 315.85H594.9M411.7 304.19H416.5M591.5 304.19H596.3M413.1 292.54H416.5M591.5 292.54H594.9M413.1 280.88H416.5M591.5 280.88H594.9M413.1 269.23H416.5M591.5 269.23H594.9M413.1 257.58H416.5M591.5 257.58H594.9M411.7 245.92H416.5M591.5 245.92H596.3M413.1 234.27H416.5M591.5 234.27H594.9M413.1 222.62H416.5M591.5 222.62H594.9M413.1 210.96H416.5M591.5 210.96H594.9M413.1 199.31H416.5M591.5 199.31H594.9M411.7 187.65H416.5M591.5 187.65H596.3M413.1 176H416.5M591.5 176H594.9M416.5 327.5V331.5M435.94 327.5V331.5M455.39 327.5V331.5M474.83 327.5V333.5M494.28 327.5V331.5M513.72 327.5V331.5M533.17 327.5V331.5M552.61 327.5V333.5M572.06 327.5V331.5M591.5 327.5V331.5" stroke="#404040" stroke-width="1.1" fill="none"/><polyline points="416.5,302.14 417.08,302.09 417.67,302.04 418.25,301.98 418.83,301.93 419.42,301.87 420,301.81 420.58,301.75 421.17,301.69 421.75,301.63 422.33,301.57 422.92,301.5 423.5,301.43 424.08,301.37 424.67,301.3 425.25,301.22 425.83,301.15 426.42,301.07 427,301 427.58,300.92 428.17,300.84 428.75,300.75 429.33,300.67 429.92,300.58 430.5,300.49 431.08,300.4 431.67,300.31 432.25,300.21 432.83,300.11 433.42,300.01 434,299.91 434.58,299.81 435.17,299.7 435.75,299.59 436.33,299.48 436.92,299.36 437.5,299.24 438.08,299.12 438.67,299 439.25,298.87 439.83,298.74 440.42,298.61 441,298.47 441.58,298.34 442.17,298.19 442.75,298.05 443.33,297.9 443.92,297.75 444.5,297.59 445.08,297.44 445.67,297.27 446.25,297.11 446.83,296.94 447.42,296.77 448,296.59 448.58,296.41 449.17,296.22 449.75,296.03 450.33,295.84 450.92,295.64 451.5,295.44 452.08,295.24 452.67,295.03 453.25,294.81 453.83,294.59 454.42,294.37 455,294.14 455.58,293.91 456.17,293.67 456.75,293.42 457.33,293.17 457.92,292.92 458.5,292.66 459.08,292.4 459.67,292.13 460.25,291.85 460.83,291.57 461.42,291.29 462,290.99 462.58,290.7 463.17,290.39 463.75,290.08 464.33,289.77 464.92,289.45 465.5,289.12 466.08,288.79 466.67,288.45 467.25,288.1 467.83,287.75 468.42,287.39 469,287.02 469.58,286.65 470.17,286.27 470.75,285.89 471.33,285.5 471.92,285.1 472.5,284.69 473.08,284.28 473.67,283.86 474.25,283.44 474.83,283 475.42,282.56 476,282.12 476.58,281.66 477.17,281.2 477.75,280.73 478.33,280.26 478.92,279.77 479.5,279.29 480.08,278.79 480.67,278.28 481.25,277.77 481.83,277.26 482.42,276.73 483,276.2 483.58,275.66 484.17,275.11 484.75,274.56 485.33,274 485.92,273.43 486.5,272.86 487.08,272.28 487.67,271.69 488.25,271.1 488.83,270.5 489.42,269.9 490,269.28 490.58,268.66 491.17,268.04 491.75,267.41 492.33,266.77 492.92,266.13 493.5,265.48 494.08,264.83 494.67,264.17 495.25,263.5 495.83,262.83 496.42,262.16 497,261.48 497.58,260.8 498.17,260.11 498.75,259.42 499.33,258.72 499.92,258.02 500.5,257.32 501.08,256.61 501.67,255.9 502.25,255.19 502.83,254.47 503.42,253.75 504,253.03 504.58,252.31 505.17,251.58 505.75,250.85 506.33,250.12 506.92,249.39 507.5,248.66 508.08,247.93 508.67,247.2 509.25,246.46 509.83,245.73 510.42,245 511,244.26 511.58,243.53 512.17,242.8 512.75,242.07 513.33,241.34 513.92,240.61 514.5,239.88 515.08,239.16 515.67,238.44 516.25,237.72 516.83,237 517.42,236.28 518,235.57 518.58,234.86 519.17,234.16 519.75,233.46 520.33,232.76 520.92,232.06 521.5,231.37 522.08,230.69 522.67,230.01 523.25,229.33 523.83,228.66 524.42,227.99 525,227.33 525.58,226.67 526.17,226.02 526.75,225.38 527.33,224.74 527.92,224.1 528.5,223.48 529.08,222.86 529.67,222.24 530.25,221.63 530.83,221.03 531.42,220.43 532,219.84 532.58,219.26 533.17,218.68 533.75,218.11 534.33,217.55 534.92,216.99 535.5,216.44 536.08,215.9 536.67,215.37 537.25,214.84 537.83,214.32 538.42,213.8 539,213.3 539.58,212.8 540.17,212.3 540.75,211.82 541.33,211.34 541.92,210.87 542.5,210.4 543.08,209.94 543.67,209.49 544.25,209.05 544.83,208.61 545.42,208.19 546,207.76 546.58,207.35 547.17,206.94 547.75,206.54 548.33,206.14 548.92,205.75 549.5,205.37 550.08,205 550.67,204.63 551.25,204.27 551.83,203.91 552.42,203.56 553,203.22 553.58,202.88 554.17,202.55 554.75,202.23 555.33,201.91 555.92,201.6 556.5,201.29 557.08,200.99 557.67,200.7 558.25,200.41 558.83,200.13 559.42,199.85 560,199.58 560.58,199.31 561.17,199.05 561.75,198.79 562.33,198.54 562.92,198.29 563.5,198.05 564.08,197.82 564.67,197.59 565.25,197.36 565.83,197.14 566.42,196.92 567,196.71 567.58,196.5 568.17,196.3 568.75,196.1 569.33,195.9 569.92,195.71 570.5,195.52 571.08,195.34 571.67,195.16 572.25,194.99 572.83,194.82 573.42,194.65 574,194.49 574.58,194.33 575.17,194.17 575.75,194.02 576.33,193.87 576.92,193.72 577.5,193.58 578.08,193.44 578.67,193.3 579.25,193.17 579.83,193.04 580.42,192.91 581,192.78 581.58,192.66 582.17,192.54 582.75,192.42 583.33,192.31 583.92,192.2 584.5,192.09 585.08,191.98 585.67,191.88 586.25,191.78 586.83,191.68 587.42,191.58 588,191.49 588.58,191.4 589.17,191.31 589.75,191.22 590.33,191.13 590.92,191.05 591.5,190.97" fill="none" stroke="#000" stroke-width="1.45" stroke-linejoin="round"/><ellipse cx="469" cy="287" rx="2.95" ry="3.4" fill="#000"/><ellipse cx="491.9" cy="262.9" rx="2.95" ry="3.4" fill="#000"/><ellipse cx="515.7" cy="245.8" rx="2.95" ry="3.4" fill="#000"/><ellipse cx="539.1" cy="212.8" rx="2.95" ry="3.4" fill="#000"/><ellipse cx="562.2" cy="196" rx="2.95" ry="3.4" fill="#000"/><ellipse cx="585.8" cy="187.6" rx="2.95" ry="3.4" fill="#000"/><text transform="translate(420.93 190.4) scale(0.9786 1)" font-size="13.8">1-Hexanol</text><text transform="translate(423.32 209.2) scale(0.9536 1)" font-size="13.8">Subject</text><text transform="translate(475.59 209.2) scale(0.9145 1)" font-size="13.8">16</text></g>
<g><rect x="613.2" y="176" width="174.7" height="151.5" fill="none" stroke="#404040" stroke-width="1.1"/><path d="M609.8 321.89H613.2M787.9 321.89H791.3M609.8 310.67H613.2M787.9 310.67H791.3M608.4 299.44H613.2M787.9 299.44H792.7M609.8 288.22H613.2M787.9 288.22H791.3M609.8 277H613.2M787.9 277H791.3M609.8 265.78H613.2M787.9 265.78H791.3M609.8 254.56H613.2M787.9 254.56H791.3M608.4 243.33H613.2M787.9 243.33H792.7M609.8 232.11H613.2M787.9 232.11H791.3M609.8 220.89H613.2M787.9 220.89H791.3M609.8 209.67H613.2M787.9 209.67H791.3M609.8 198.44H613.2M787.9 198.44H791.3M608.4 187.22H613.2M787.9 187.22H792.7M609.8 176H613.2M787.9 176H791.3M613.2 327.5V331.5M632.61 327.5V331.5M652.02 327.5V331.5M671.43 327.5V333.5M690.84 327.5V331.5M710.26 327.5V331.5M729.67 327.5V331.5M749.08 327.5V333.5M768.49 327.5V331.5M787.9 327.5V331.5" stroke="#404040" stroke-width="1.1" fill="none"/><polyline points="613.2,299.44 613.78,299.44 614.36,299.44 614.95,299.44 615.53,299.44 616.11,299.44 616.69,299.44 617.28,299.44 617.86,299.44 618.44,299.44 619.02,299.44 619.61,299.44 620.19,299.44 620.77,299.44 621.35,299.44 621.94,299.44 622.52,299.44 623.1,299.44 623.68,299.44 624.26,299.44 624.85,299.44 625.43,299.44 626.01,299.44 626.59,299.44 627.18,299.44 627.76,299.44 628.34,299.44 628.92,299.44 629.51,299.44 630.09,299.44 630.67,299.44 631.25,299.44 631.83,299.44 632.42,299.44 633,299.44 633.58,299.44 634.16,299.44 634.75,299.44 635.33,299.44 635.91,299.44 636.49,299.44 637.08,299.44 637.66,299.44 638.24,299.44 638.82,299.44 639.41,299.44 639.99,299.44 640.57,299.44 641.15,299.44 641.73,299.44 642.32,299.44 642.9,299.44 643.48,299.44 644.06,299.44 644.65,299.44 645.23,299.44 645.81,299.44 646.39,299.44 646.98,299.44 647.56,299.44 648.14,299.44 648.72,299.44 649.3,299.44 649.89,299.44 650.47,299.44 651.05,299.44 651.63,299.44 652.22,299.44 652.8,299.44 653.38,299.44 653.96,299.44 654.55,299.44 655.13,299.44 655.71,299.44 656.29,299.44 656.88,299.44 657.46,299.44 658.04,299.44 658.62,299.44 659.2,299.44 659.79,299.44 660.37,299.44 660.95,299.44 661.53,299.44 662.12,299.44 662.7,299.44 663.28,299.44 663.86,299.44 664.45,299.44 665.03,299.44 665.61,299.44 666.19,299.44 666.77,299.44 667.36,299.44 667.94,299.44 668.52,299.44 669.1,299.43 669.69,299.43 670.27,299.43 670.85,299.43 671.43,299.43 672.02,299.43 672.6,299.43 673.18,299.43 673.76,299.43 674.35,299.43 674.93,299.43 675.51,299.43 676.09,299.43 676.67,299.43 677.26,299.43 677.84,299.43 678.42,299.42 679,299.42 679.59,299.42 680.17,299.42 680.75,299.42 681.33,299.42 681.92,299.42 682.5,299.42 683.08,299.42 683.66,299.41 684.24,299.41 684.83,299.41 685.41,299.41 685.99,299.41 686.57,299.41 687.16,299.41 687.74,299.4 688.32,299.4 688.9,299.4 689.49,299.4 690.07,299.4 690.65,299.39 691.23,299.39 691.82,299.39 692.4,299.39 692.98,299.38 693.56,299.38 694.14,299.38 694.73,299.37 695.31,299.37 695.89,299.37 696.47,299.36 697.06,299.36 697.64,299.36 698.22,299.35 698.8,299.35 699.39,299.34 699.97,299.34 700.55,299.33 701.13,299.33 701.71,299.32 702.3,299.32 702.88,299.31 703.46,299.31 704.04,299.3 704.63,299.29 705.21,299.29 705.79,299.28 706.37,299.27 706.96,299.27 707.54,299.26 708.12,299.25 708.7,299.24 709.28,299.23 709.87,299.22 710.45,299.21 711.03,299.2 711.61,299.19 712.2,299.18 712.78,299.17 713.36,299.15 713.94,299.14 714.53,299.13 715.11,299.11 715.69,299.1 716.27,299.08 716.86,299.06 717.44,299.05 718.02,299.03 718.6,299.01 719.18,298.99 719.77,298.97 720.35,298.95 720.93,298.92 721.51,298.9 722.1,298.87 722.68,298.85 723.26,298.82 723.84,298.79 724.43,298.76 725.01,298.73 725.59,298.7 726.17,298.67 726.75,298.63 727.34,298.59 727.92,298.55 728.5,298.51 729.08,298.47 729.67,298.43 730.25,298.38 730.83,298.33 731.41,298.28 732,298.23 732.58,298.17 733.16,298.11 733.74,298.05 734.33,297.99 734.91,297.92 735.49,297.85 736.07,297.78 736.65,297.71 737.24,297.63 737.82,297.54 738.4,297.46 738.98,297.37 739.57,297.27 740.15,297.17 740.73,297.07 741.31,296.96 741.9,296.85 742.48,296.73 743.06,296.61 743.64,296.48 744.23,296.34 744.81,296.2 745.39,296.05 745.97,295.9 746.55,295.74 747.14,295.57 747.72,295.39 748.3,295.21 748.88,295.02 749.47,294.81 750.05,294.6 750.63,294.38 751.21,294.15 751.8,293.91 752.38,293.66 752.96,293.4 753.54,293.13 754.12,292.84 754.71,292.54 755.29,292.23 755.87,291.9 756.45,291.56 757.04,291.2 757.62,290.83 758.2,290.44 758.78,290.04 759.37,289.61 759.95,289.17 760.53,288.71 761.11,288.23 761.69,287.72 762.28,287.2 762.86,286.65 763.44,286.08 764.02,285.48 764.61,284.86 765.19,284.21 765.77,283.54 766.35,282.84 766.94,282.11 767.52,281.34 768.1,280.55 768.68,279.73 769.27,278.87 769.85,277.98 770.43,277.05 771.01,276.09 771.59,275.09 772.18,274.06 772.76,272.98 773.34,271.87 773.92,270.72 774.51,269.53 775.09,268.3 775.67,267.02 776.25,265.71 776.84,264.36 777.42,262.97 778,261.54 778.58,260.06 779.16,258.56 779.75,257.01 780.33,255.43 780.91,253.81 781.49,252.16 782.08,250.48 782.66,248.77 783.24,247.04 783.82,245.28 784.41,243.51 784.99,241.72 785.57,239.92 786.15,238.1 786.74,236.29 787.32,234.47 787.9,232.66" fill="none" stroke="#000" stroke-width="1.45" stroke-linejoin="round"/><ellipse cx="735.4" cy="323.4" rx="2.95" ry="3.4" fill="#000"/><ellipse cx="758.5" cy="283.4" rx="2.95" ry="3.4" fill="#000"/><ellipse cx="782.3" cy="251.4" rx="2.95" ry="3.4" fill="#000"/><text transform="translate(617.93 190) scale(0.9786 1)" font-size="13.8">1-Hexanol</text><text transform="translate(618.63 208.4) scale(0.9496 1)" font-size="13.8">Subject</text><text transform="translate(671.16 208.4) scale(0.9502 1)" font-size="13.8">18</text></g>
<g><rect x="30.6" y="346.5" width="167.75" height="147.8" fill="none" stroke="#404040" stroke-width="1.1"/><path d="M27.2 494.3H30.6M198.35 494.3H201.75M27.2 482.93H30.6M198.35 482.93H201.75M25.8 471.56H30.6M198.35 471.56H203.15M27.2 460.19H30.6M198.35 460.19H201.75M27.2 448.82H30.6M198.35 448.82H201.75M27.2 437.45H30.6M198.35 437.45H201.75M27.2 426.08H30.6M198.35 426.08H201.75M25.8 414.72H30.6M198.35 414.72H203.15M27.2 403.35H30.6M198.35 403.35H201.75M27.2 391.98H30.6M198.35 391.98H201.75M27.2 380.61H30.6M198.35 380.61H201.75M27.2 369.24H30.6M198.35 369.24H201.75M25.8 357.87H30.6M198.35 357.87H203.15M27.2 346.5H30.6M198.35 346.5H201.75M30.6 494.3V498.3M49.24 494.3V498.3M67.88 494.3V498.3M86.52 494.3V500.3M105.16 494.3V498.3M123.79 494.3V498.3M142.43 494.3V498.3M161.07 494.3V500.3M179.71 494.3V498.3M198.35 494.3V498.3" stroke="#404040" stroke-width="1.1" fill="none"/><polyline points="30.6,471.34 31.16,471.34 31.72,471.33 32.28,471.32 32.84,471.31 33.4,471.31 33.95,471.3 34.51,471.29 35.07,471.28 35.63,471.27 36.19,471.26 36.75,471.25 37.31,471.24 37.87,471.23 38.43,471.22 38.99,471.21 39.55,471.2 40.11,471.19 40.66,471.18 41.22,471.17 41.78,471.16 42.34,471.14 42.9,471.13 43.46,471.12 44.02,471.1 44.58,471.09 45.14,471.07 45.7,471.06 46.26,471.04 46.82,471.03 47.38,471.01 47.93,470.99 48.49,470.97 49.05,470.96 49.61,470.94 50.17,470.92 50.73,470.9 51.29,470.88 51.85,470.85 52.41,470.83 52.97,470.81 53.53,470.79 54.09,470.76 54.64,470.74 55.2,470.71 55.76,470.68 56.32,470.66 56.88,470.63 57.44,470.6 58,470.57 58.56,470.54 59.12,470.51 59.68,470.47 60.24,470.44 60.8,470.41 61.35,470.37 61.91,470.33 62.47,470.29 63.03,470.25 63.59,470.21 64.15,470.17 64.71,470.13 65.27,470.08 65.83,470.04 66.39,469.99 66.95,469.94 67.5,469.89 68.06,469.84 68.62,469.79 69.18,469.73 69.74,469.68 70.3,469.62 70.86,469.56 71.42,469.49 71.98,469.43 72.54,469.36 73.1,469.3 73.66,469.23 74.22,469.16 74.77,469.08 75.33,469 75.89,468.93 76.45,468.85 77.01,468.76 77.57,468.68 78.13,468.59 78.69,468.5 79.25,468.4 79.81,468.31 80.37,468.21 80.93,468.1 81.48,468 82.04,467.89 82.6,467.78 83.16,467.66 83.72,467.54 84.28,467.42 84.84,467.3 85.4,467.17 85.96,467.03 86.52,466.9 87.08,466.76 87.63,466.61 88.19,466.46 88.75,466.31 89.31,466.15 89.87,465.99 90.43,465.82 90.99,465.65 91.55,465.48 92.11,465.3 92.67,465.11 93.23,464.92 93.79,464.72 94.34,464.52 94.9,464.31 95.46,464.1 96.02,463.88 96.58,463.65 97.14,463.42 97.7,463.19 98.26,462.94 98.82,462.69 99.38,462.43 99.94,462.17 100.5,461.9 101.06,461.62 101.61,461.34 102.17,461.05 102.73,460.75 103.29,460.44 103.85,460.12 104.41,459.8 104.97,459.47 105.53,459.13 106.09,458.78 106.65,458.43 107.21,458.06 107.77,457.69 108.32,457.31 108.88,456.92 109.44,456.52 110,456.11 110.56,455.69 111.12,455.26 111.68,454.82 112.24,454.37 112.8,453.92 113.36,453.45 113.92,452.97 114.47,452.49 115.03,451.99 115.59,451.48 116.15,450.96 116.71,450.43 117.27,449.9 117.83,449.35 118.39,448.79 118.95,448.22 119.51,447.64 120.07,447.05 120.63,446.44 121.19,445.83 121.74,445.21 122.3,444.58 122.86,443.93 123.42,443.28 123.98,442.61 124.54,441.94 125.1,441.26 125.66,440.56 126.22,439.86 126.78,439.14 127.34,438.42 127.9,437.69 128.45,436.95 129.01,436.2 129.57,435.44 130.13,434.67 130.69,433.89 131.25,433.1 131.81,432.31 132.37,431.51 132.93,430.7 133.49,429.89 134.05,429.07 134.6,428.24 135.16,427.4 135.72,426.56 136.28,425.72 136.84,424.87 137.4,424.01 137.96,423.15 138.52,422.29 139.08,421.42 139.64,420.55 140.2,419.67 140.76,418.8 141.31,417.92 141.87,417.04 142.43,416.16 142.99,415.28 143.55,414.4 144.11,413.52 144.67,412.64 145.23,411.76 145.79,410.88 146.35,410 146.91,409.13 147.47,408.26 148.03,407.39 148.58,406.52 149.14,405.66 149.7,404.81 150.26,403.95 150.82,403.11 151.38,402.26 151.94,401.43 152.5,400.6 153.06,399.77 153.62,398.96 154.18,398.15 154.74,397.34 155.29,396.55 155.85,395.76 156.41,394.98 156.97,394.21 157.53,393.45 158.09,392.7 158.65,391.95 159.21,391.22 159.77,390.49 160.33,389.77 160.89,389.07 161.44,388.37 162,387.68 162.56,387 163.12,386.34 163.68,385.68 164.24,385.03 164.8,384.4 165.36,383.77 165.92,383.16 166.48,382.55 167.04,381.96 167.6,381.38 168.16,380.8 168.71,380.24 169.27,379.69 169.83,379.15 170.39,378.62 170.95,378.1 171.51,377.59 172.07,377.08 172.63,376.59 173.19,376.11 173.75,375.64 174.31,375.18 174.86,374.73 175.42,374.29 175.98,373.86 176.54,373.44 177.1,373.03 177.66,372.63 178.22,372.23 178.78,371.85 179.34,371.47 179.9,371.11 180.46,370.75 181.02,370.4 181.57,370.06 182.13,369.72 182.69,369.4 183.25,369.08 183.81,368.77 184.37,368.47 184.93,368.17 185.49,367.89 186.05,367.61 186.61,367.34 187.17,367.07 187.73,366.81 188.28,366.56 188.84,366.31 189.4,366.07 189.96,365.84 190.52,365.61 191.08,365.39 191.64,365.18 192.2,364.97 192.76,364.77 193.32,364.57 193.88,364.37 194.44,364.19 195,364 195.55,363.83 196.11,363.65 196.67,363.49 197.23,363.32 197.79,363.16 198.35,363.01" fill="none" stroke="#000" stroke-width="1.45" stroke-linejoin="round"/><ellipse cx="103.1" cy="464.1" rx="2.95" ry="3.4" fill="#000"/><ellipse cx="125.5" cy="439.2" rx="2.95" ry="3.4" fill="#000"/><ellipse cx="148.3" cy="406.7" rx="2.95" ry="3.4" fill="#000"/><ellipse cx="170.3" cy="382.5" rx="2.95" ry="3.4" fill="#000"/><ellipse cx="192.9" cy="358.1" rx="2.95" ry="3.4" fill="#000"/><text transform="translate(36.66 361) scale(0.9443 1)" font-size="13.8">1-Hexanol</text><text transform="translate(36.69 378.75) scale(0.9130 1)" font-size="13.8">Subject</text><text transform="translate(87.06 378.75) scale(0.8956 1)" font-size="13.8">20</text><text transform="translate(7.65 473.66) scale(0.8500 1)" font-size="14.6">0.0</text><text transform="translate(7.47 416.82) scale(0.8500 1)" font-size="14.6">0.5</text><text transform="translate(7.65 359.97) scale(0.8500 1)" font-size="14.6">1.0</text></g>
<g><rect x="216.25" y="340.5" width="177.75" height="153" fill="none" stroke="#404040" stroke-width="1.1"/><path d="M212.85 493.5H216.25M394 493.5H397.4M212.85 481.73H216.25M394 481.73H397.4M211.45 469.96H216.25M394 469.96H398.8M212.85 458.19H216.25M394 458.19H397.4M212.85 446.42H216.25M394 446.42H397.4M212.85 434.65H216.25M394 434.65H397.4M212.85 422.88H216.25M394 422.88H397.4M211.45 411.12H216.25M394 411.12H398.8M212.85 399.35H216.25M394 399.35H397.4M212.85 387.58H216.25M394 387.58H397.4M212.85 375.81H216.25M394 375.81H397.4M212.85 364.04H216.25M394 364.04H397.4M211.45 352.27H216.25M394 352.27H398.8M212.85 340.5H216.25M394 340.5H397.4M216.25 493.5V497.5M236 493.5V497.5M255.75 493.5V497.5M275.5 493.5V499.5M295.25 493.5V497.5M315 493.5V497.5M334.75 493.5V497.5M354.5 493.5V499.5M374.25 493.5V497.5M394 493.5V497.5" stroke="#404040" stroke-width="1.1" fill="none"/><polyline points="216.25,469.96 216.84,469.96 217.44,469.96 218.03,469.96 218.62,469.96 219.21,469.96 219.81,469.96 220.4,469.96 220.99,469.96 221.58,469.96 222.18,469.96 222.77,469.96 223.36,469.96 223.95,469.96 224.54,469.96 225.14,469.96 225.73,469.96 226.32,469.96 226.91,469.96 227.51,469.96 228.1,469.96 228.69,469.96 229.28,469.96 229.88,469.96 230.47,469.96 231.06,469.96 231.66,469.96 232.25,469.96 232.84,469.96 233.43,469.96 234.03,469.96 234.62,469.96 235.21,469.96 235.8,469.96 236.4,469.96 236.99,469.96 237.58,469.96 238.17,469.96 238.76,469.96 239.36,469.96 239.95,469.96 240.54,469.96 241.13,469.96 241.73,469.96 242.32,469.96 242.91,469.96 243.5,469.96 244.1,469.96 244.69,469.96 245.28,469.96 245.88,469.96 246.47,469.96 247.06,469.96 247.65,469.96 248.25,469.96 248.84,469.96 249.43,469.96 250.02,469.96 250.62,469.96 251.21,469.96 251.8,469.96 252.39,469.96 252.99,469.96 253.58,469.96 254.17,469.96 254.76,469.96 255.35,469.96 255.95,469.96 256.54,469.96 257.13,469.96 257.73,469.96 258.32,469.96 258.91,469.96 259.5,469.96 260.1,469.96 260.69,469.96 261.28,469.96 261.87,469.96 262.47,469.96 263.06,469.96 263.65,469.96 264.24,469.96 264.83,469.96 265.43,469.96 266.02,469.96 266.61,469.96 267.2,469.96 267.8,469.96 268.39,469.96 268.98,469.96 269.57,469.96 270.17,469.96 270.76,469.96 271.35,469.96 271.94,469.96 272.54,469.96 273.13,469.96 273.72,469.96 274.31,469.96 274.91,469.96 275.5,469.96 276.09,469.96 276.69,469.96 277.28,469.96 277.87,469.96 278.46,469.96 279.06,469.96 279.65,469.96 280.24,469.96 280.83,469.96 281.43,469.96 282.02,469.96 282.61,469.96 283.2,469.96 283.8,469.96 284.39,469.96 284.98,469.96 285.57,469.96 286.17,469.96 286.76,469.96 287.35,469.96 287.94,469.96 288.53,469.96 289.13,469.96 289.72,469.96 290.31,469.96 290.9,469.96 291.5,469.96 292.09,469.96 292.68,469.96 293.27,469.96 293.87,469.96 294.46,469.96 295.05,469.96 295.64,469.96 296.24,469.96 296.83,469.96 297.42,469.96 298.01,469.96 298.61,469.96 299.2,469.96 299.79,469.96 300.38,469.96 300.98,469.96 301.57,469.96 302.16,469.96 302.75,469.96 303.35,469.96 303.94,469.96 304.53,469.96 305.12,469.96 305.72,469.96 306.31,469.96 306.9,469.96 307.5,469.96 308.09,469.96 308.68,469.96 309.27,469.96 309.87,469.96 310.46,469.96 311.05,469.96 311.64,469.96 312.24,469.96 312.83,469.96 313.42,469.96 314.01,469.96 314.61,469.96 315.2,469.96 315.79,469.96 316.38,469.96 316.98,469.96 317.57,469.96 318.16,469.96 318.75,469.96 319.35,469.96 319.94,469.96 320.53,469.96 321.12,469.96 321.72,469.96 322.31,469.96 322.9,469.96 323.49,469.96 324.08,469.96 324.68,469.96 325.27,469.96 325.86,469.96 326.45,469.96 327.05,469.95 327.64,469.95 328.23,469.95 328.82,469.94 329.42,469.92 330.01,469.9 330.6,469.87 331.19,469.82 331.79,469.74 332.38,469.62 332.97,469.43 333.56,469.14 334.16,468.69 334.75,468 335.34,466.95 335.94,465.36 336.53,462.98 337.12,459.49 337.71,454.49 338.31,447.6 338.9,438.59 339.49,427.57 340.08,415.13 340.68,402.31 341.27,390.3 341.86,379.99 342.45,371.79 343.05,365.66 343.64,361.27 344.23,358.24 344.82,356.19 345.41,354.83 346.01,353.94 346.6,353.35 347.19,352.97 347.78,352.72 348.38,352.56 348.97,352.46 349.56,352.39 350.15,352.35 350.75,352.32 351.34,352.3 351.93,352.29 352.52,352.28 353.12,352.28 353.71,352.27 354.3,352.27 354.89,352.27 355.49,352.27 356.08,352.27 356.67,352.27 357.26,352.27 357.86,352.27 358.45,352.27 359.04,352.27 359.63,352.27 360.23,352.27 360.82,352.27 361.41,352.27 362,352.27 362.6,352.27 363.19,352.27 363.78,352.27 364.38,352.27 364.97,352.27 365.56,352.27 366.15,352.27 366.75,352.27 367.34,352.27 367.93,352.27 368.52,352.27 369.12,352.27 369.71,352.27 370.3,352.27 370.89,352.27 371.49,352.27 372.08,352.27 372.67,352.27 373.26,352.27 373.86,352.27 374.45,352.27 375.04,352.27 375.63,352.27 376.23,352.27 376.82,352.27 377.41,352.27 378,352.27 378.6,352.27 379.19,352.27 379.78,352.27 380.37,352.27 380.97,352.27 381.56,352.27 382.15,352.27 382.74,352.27 383.34,352.27 383.93,352.27 384.52,352.27 385.11,352.27 385.71,352.27 386.3,352.27 386.89,352.27 387.48,352.27 388.07,352.27 388.67,352.27 389.26,352.27 389.85,352.27 390.44,352.27 391.04,352.27 391.63,352.27 392.22,352.27 392.81,352.27 393.41,352.27 394,352.27" fill="none" stroke="#000" stroke-width="1.45" stroke-linejoin="round"/><ellipse cx="317.1" cy="470.2" rx="2.95" ry="3.4" fill="#000"/><ellipse cx="340.9" cy="402.7" rx="2.95" ry="3.4" fill="#000"/><ellipse cx="364.3" cy="352.6" rx="2.95" ry="3.4" fill="#000"/><text transform="translate(219.81 354.7) scale(1.0036 1)" font-size="13.8">1-Hexanol</text><text transform="translate(221.22 372.8) scale(0.9678 1)" font-size="13.8">Subject</text><text transform="translate(275.08 372.8) scale(0.8489 1)" font-size="13.8">21</text></g>
<g><rect x="416.35" y="342.3" width="175.15" height="151.2" fill="none" stroke="#404040" stroke-width="1.1"/><path d="M412.95 493.5H416.35M591.5 493.5H594.9M412.95 481.87H416.35M591.5 481.87H594.9M411.55 470.24H416.35M591.5 470.24H596.3M412.95 458.61H416.35M591.5 458.61H594.9M412.95 446.98H416.35M591.5 446.98H594.9M412.95 435.35H416.35M591.5 435.35H594.9M412.95 423.72H416.35M591.5 423.72H594.9M411.55 412.08H416.35M591.5 412.08H596.3M412.95 400.45H416.35M591.5 400.45H594.9M412.95 388.82H416.35M591.5 388.82H594.9M412.95 377.19H416.35M591.5 377.19H594.9M412.95 365.56H416.35M591.5 365.56H594.9M411.55 353.93H416.35M591.5 353.93H596.3M412.95 342.3H416.35M591.5 342.3H594.9M416.35 493.5V497.5M435.81 493.5V497.5M455.27 493.5V497.5M474.73 493.5V499.5M494.19 493.5V497.5M513.66 493.5V497.5M533.12 493.5V497.5M552.58 493.5V499.5M572.04 493.5V497.5M591.5 493.5V497.5" stroke="#404040" stroke-width="1.1" fill="none"/><polyline points="416.35,470.24 416.93,470.24 417.52,470.24 418.1,470.24 418.69,470.24 419.27,470.24 419.85,470.24 420.44,470.24 421.02,470.24 421.6,470.24 422.19,470.24 422.77,470.24 423.36,470.24 423.94,470.24 424.52,470.24 425.11,470.24 425.69,470.24 426.28,470.24 426.86,470.24 427.44,470.24 428.03,470.24 428.61,470.24 429.19,470.24 429.78,470.24 430.36,470.24 430.95,470.24 431.53,470.24 432.11,470.23 432.7,470.23 433.28,470.23 433.87,470.23 434.45,470.23 435.03,470.23 435.62,470.23 436.2,470.23 436.78,470.23 437.37,470.23 437.95,470.23 438.54,470.23 439.12,470.23 439.7,470.23 440.29,470.23 440.87,470.23 441.45,470.23 442.04,470.23 442.62,470.23 443.21,470.23 443.79,470.23 444.37,470.23 444.96,470.23 445.54,470.23 446.13,470.23 446.71,470.23 447.29,470.23 447.88,470.23 448.46,470.22 449.04,470.22 449.63,470.22 450.21,470.22 450.8,470.22 451.38,470.22 451.96,470.22 452.55,470.22 453.13,470.22 453.72,470.22 454.3,470.22 454.88,470.21 455.47,470.21 456.05,470.21 456.63,470.21 457.22,470.21 457.8,470.21 458.39,470.21 458.97,470.2 459.55,470.2 460.14,470.2 460.72,470.2 461.31,470.2 461.89,470.19 462.47,470.19 463.06,470.19 463.64,470.19 464.22,470.19 464.81,470.18 465.39,470.18 465.98,470.18 466.56,470.17 467.14,470.17 467.73,470.17 468.31,470.16 468.9,470.16 469.48,470.16 470.06,470.15 470.65,470.15 471.23,470.14 471.81,470.14 472.4,470.13 472.98,470.13 473.57,470.12 474.15,470.12 474.73,470.11 475.32,470.1 475.9,470.1 476.48,470.09 477.07,470.08 477.65,470.07 478.24,470.06 478.82,470.06 479.4,470.05 479.99,470.04 480.57,470.03 481.16,470.02 481.74,470 482.32,469.99 482.91,469.98 483.49,469.97 484.07,469.95 484.66,469.94 485.24,469.92 485.83,469.91 486.41,469.89 486.99,469.87 487.58,469.86 488.16,469.84 488.75,469.82 489.33,469.8 489.91,469.77 490.5,469.75 491.08,469.73 491.66,469.7 492.25,469.67 492.83,469.64 493.42,469.61 494,469.58 494.58,469.55 495.17,469.51 495.75,469.48 496.34,469.44 496.92,469.4 497.5,469.36 498.09,469.31 498.67,469.27 499.25,469.22 499.84,469.17 500.42,469.11 501.01,469.06 501.59,469 502.17,468.94 502.76,468.87 503.34,468.8 503.93,468.73 504.51,468.65 505.09,468.58 505.68,468.49 506.26,468.41 506.84,468.31 507.43,468.22 508.01,468.12 508.6,468.01 509.18,467.9 509.76,467.79 510.35,467.67 510.93,467.54 511.51,467.41 512.1,467.27 512.68,467.12 513.27,466.97 513.85,466.81 514.43,466.64 515.02,466.46 515.6,466.28 516.19,466.08 516.77,465.88 517.35,465.67 517.94,465.45 518.52,465.21 519.1,464.97 519.69,464.72 520.27,464.45 520.86,464.17 521.44,463.88 522.02,463.58 522.61,463.26 523.19,462.93 523.78,462.59 524.36,462.23 524.94,461.85 525.53,461.46 526.11,461.05 526.69,460.62 527.28,460.18 527.86,459.71 528.45,459.23 529.03,458.73 529.61,458.21 530.2,457.66 530.78,457.1 531.37,456.51 531.95,455.9 532.53,455.27 533.12,454.62 533.7,453.94 534.28,453.23 534.87,452.5 535.45,451.75 536.04,450.97 536.62,450.16 537.2,449.33 537.79,448.46 538.37,447.58 538.96,446.66 539.54,445.72 540.12,444.75 540.71,443.76 541.29,442.73 541.87,441.68 542.46,440.61 543.04,439.5 543.63,438.37 544.21,437.22 544.79,436.04 545.38,434.83 545.96,433.61 546.54,432.35 547.13,431.08 547.71,429.79 548.3,428.48 548.88,427.15 549.46,425.8 550.05,424.44 550.63,423.06 551.22,421.67 551.8,420.27 552.38,418.85 552.97,417.43 553.55,416.01 554.13,414.58 554.72,413.14 555.3,411.71 555.89,410.27 556.47,408.84 557.05,407.41 557.64,405.98 558.22,404.57 558.81,403.16 559.39,401.77 559.97,400.38 560.56,399.01 561.14,397.66 561.72,396.32 562.31,395 562.89,393.69 563.48,392.41 564.06,391.15 564.64,389.91 565.23,388.7 565.81,387.51 566.4,386.34 566.98,385.2 567.56,384.08 568.15,382.99 568.73,381.93 569.31,380.89 569.9,379.88 570.48,378.9 571.07,377.95 571.65,377.02 572.23,376.12 572.82,375.25 573.4,374.4 573.99,373.58 574.57,372.79 575.15,372.02 575.74,371.28 576.32,370.56 576.9,369.87 577.49,369.2 578.07,368.56 578.66,367.94 579.24,367.34 579.82,366.77 580.41,366.22 580.99,365.68 581.57,365.17 582.16,364.68 582.74,364.21 583.33,363.75 583.91,363.32 584.49,362.9 585.08,362.5 585.66,362.12 586.25,361.75 586.83,361.4 587.41,361.06 588,360.74 588.58,360.43 589.16,360.13 589.75,359.85 590.33,359.58 590.92,359.32 591.5,359.07" fill="none" stroke="#000" stroke-width="1.45" stroke-linejoin="round"/><ellipse cx="515.5" cy="486.7" rx="2.95" ry="3.4" fill="#000"/><ellipse cx="539.1" cy="445.2" rx="2.95" ry="3.4" fill="#000"/><ellipse cx="562.2" cy="395.6" rx="2.95" ry="3.4" fill="#000"/><ellipse cx="585.6" cy="370.4" rx="2.95" ry="3.4" fill="#000"/><text transform="translate(421.42 356.7) scale(0.9926 1)" font-size="13.8">1-Hexanol</text><text transform="translate(421.62 374.7) scale(0.9597 1)" font-size="13.8">Subject</text><text transform="translate(474.55 374.7) scale(0.9179 1)" font-size="13.8">25</text></g>
<g><rect x="613.25" y="342.3" width="175.05" height="151.2" fill="none" stroke="#404040" stroke-width="1.1"/><path d="M609.85 493.5H613.25M788.3 493.5H791.7M609.85 481.87H613.25M788.3 481.87H791.7M608.45 470.24H613.25M788.3 470.24H793.1M609.85 458.61H613.25M788.3 458.61H791.7M609.85 446.98H613.25M788.3 446.98H791.7M609.85 435.35H613.25M788.3 435.35H791.7M609.85 423.72H613.25M788.3 423.72H791.7M608.45 412.08H613.25M788.3 412.08H793.1M609.85 400.45H613.25M788.3 400.45H791.7M609.85 388.82H613.25M788.3 388.82H791.7M609.85 377.19H613.25M788.3 377.19H791.7M609.85 365.56H613.25M788.3 365.56H791.7M608.45 353.93H613.25M788.3 353.93H793.1M609.85 342.3H613.25M788.3 342.3H791.7M613.25 493.5V497.5M632.7 493.5V497.5M652.15 493.5V497.5M671.6 493.5V499.5M691.05 493.5V497.5M710.5 493.5V497.5M729.95 493.5V497.5M749.4 493.5V499.5M768.85 493.5V497.5M788.3 493.5V497.5" stroke="#404040" stroke-width="1.1" fill="none"/><polyline points="613.25,416.38 613.83,416.03 614.42,415.67 615,415.32 615.58,414.96 616.17,414.61 616.75,414.25 617.33,413.89 617.92,413.53 618.5,413.17 619.09,412.81 619.67,412.45 620.25,412.09 620.84,411.72 621.42,411.36 622,410.99 622.59,410.63 623.17,410.26 623.75,409.89 624.34,409.53 624.92,409.16 625.5,408.79 626.09,408.42 626.67,408.05 627.25,407.68 627.84,407.31 628.42,406.94 629,406.56 629.59,406.19 630.17,405.82 630.75,405.44 631.34,405.07 631.92,404.7 632.51,404.32 633.09,403.95 633.67,403.58 634.26,403.2 634.84,402.83 635.42,402.45 636.01,402.08 636.59,401.7 637.17,401.33 637.76,400.96 638.34,400.58 638.92,400.21 639.51,399.83 640.09,399.46 640.67,399.09 641.26,398.71 641.84,398.34 642.42,397.97 643.01,397.6 643.59,397.23 644.18,396.86 644.76,396.49 645.34,396.12 645.93,395.75 646.51,395.38 647.09,395.01 647.68,394.64 648.26,394.28 648.84,393.91 649.43,393.55 650.01,393.18 650.59,392.82 651.18,392.46 651.76,392.1 652.34,391.74 652.93,391.38 653.51,391.02 654.1,390.67 654.68,390.31 655.26,389.96 655.85,389.6 656.43,389.25 657.01,388.9 657.6,388.55 658.18,388.2 658.76,387.86 659.35,387.51 659.93,387.17 660.51,386.83 661.1,386.49 661.68,386.15 662.26,385.81 662.85,385.47 663.43,385.14 664.01,384.81 664.6,384.48 665.18,384.15 665.76,383.82 666.35,383.49 666.93,383.17 667.52,382.85 668.1,382.53 668.68,382.21 669.27,381.89 669.85,381.58 670.43,381.26 671.02,380.95 671.6,380.64 672.18,380.34 672.77,380.03 673.35,379.73 673.93,379.43 674.52,379.13 675.1,378.83 675.68,378.54 676.27,378.25 676.85,377.96 677.43,377.67 678.02,377.38 678.6,377.1 679.19,376.82 679.77,376.54 680.35,376.26 680.94,375.98 681.52,375.71 682.1,375.44 682.69,375.17 683.27,374.91 683.85,374.64 684.44,374.38 685.02,374.12 685.6,373.86 686.19,373.61 686.77,373.36 687.35,373.11 687.94,372.86 688.52,372.61 689.11,372.37 689.69,372.13 690.27,371.89 690.86,371.65 691.44,371.42 692.02,371.19 692.61,370.96 693.19,370.73 693.77,370.5 694.36,370.28 694.94,370.06 695.52,369.84 696.11,369.62 696.69,369.41 697.27,369.2 697.86,368.99 698.44,368.78 699.02,368.58 699.61,368.37 700.19,368.17 700.77,367.98 701.36,367.78 701.94,367.59 702.53,367.39 703.11,367.2 703.69,367.02 704.28,366.83 704.86,366.65 705.44,366.47 706.03,366.29 706.61,366.11 707.19,365.94 707.78,365.76 708.36,365.59 708.94,365.42 709.53,365.26 710.11,365.09 710.69,364.93 711.28,364.77 711.86,364.61 712.44,364.45 713.03,364.3 713.61,364.15 714.2,364 714.78,363.85 715.36,363.7 715.95,363.56 716.53,363.41 717.11,363.27 717.7,363.13 718.28,362.99 718.86,362.86 719.45,362.72 720.03,362.59 720.61,362.46 721.2,362.33 721.78,362.2 722.36,362.08 722.95,361.96 723.53,361.83 724.12,361.71 724.7,361.59 725.28,361.48 725.87,361.36 726.45,361.25 727.03,361.13 727.62,361.02 728.2,360.91 728.78,360.81 729.37,360.7 729.95,360.6 730.53,360.49 731.12,360.39 731.7,360.29 732.28,360.19 732.87,360.09 733.45,360 734.03,359.9 734.62,359.81 735.2,359.72 735.78,359.63 736.37,359.54 736.95,359.45 737.54,359.36 738.12,359.28 738.7,359.19 739.29,359.11 739.87,359.03 740.45,358.95 741.04,358.87 741.62,358.79 742.2,358.71 742.79,358.63 743.37,358.56 743.95,358.49 744.54,358.41 745.12,358.34 745.7,358.27 746.29,358.2 746.87,358.13 747.45,358.07 748.04,358 748.62,357.93 749.21,357.87 749.79,357.81 750.37,357.74 750.96,357.68 751.54,357.62 752.12,357.56 752.71,357.5 753.29,357.45 753.87,357.39 754.46,357.33 755.04,357.28 755.62,357.22 756.21,357.17 756.79,357.12 757.37,357.07 757.96,357.01 758.54,356.96 759.12,356.91 759.71,356.87 760.29,356.82 760.88,356.77 761.46,356.72 762.04,356.68 762.63,356.63 763.21,356.59 763.79,356.55 764.38,356.5 764.96,356.46 765.54,356.42 766.13,356.38 766.71,356.34 767.29,356.3 767.88,356.26 768.46,356.22 769.04,356.18 769.63,356.15 770.21,356.11 770.79,356.07 771.38,356.04 771.96,356 772.55,355.97 773.13,355.94 773.71,355.9 774.3,355.87 774.88,355.84 775.46,355.81 776.05,355.78 776.63,355.75 777.21,355.72 777.8,355.69 778.38,355.66 778.96,355.63 779.55,355.6 780.13,355.57 780.71,355.55 781.3,355.52 781.88,355.49 782.46,355.47 783.05,355.44 783.63,355.42 784.22,355.39 784.8,355.37 785.38,355.34 785.97,355.32 786.55,355.3 787.13,355.27 787.72,355.25 788.3,355.23" fill="none" stroke="#000" stroke-width="1.45" stroke-linejoin="round"/><ellipse cx="618.6" cy="420.1" rx="2.95" ry="3.4" fill="#000"/><ellipse cx="642.2" cy="370.6" rx="2.95" ry="3.4" fill="#000"/><ellipse cx="666" cy="420.1" rx="2.95" ry="3.4" fill="#000"/><ellipse cx="689.1" cy="354.2" rx="2.95" ry="3.4" fill="#000"/><text transform="translate(718.02 467) scale(0.9880 1)" font-size="13.8">1-Hexanol</text><text transform="translate(717.42 485.7) scale(0.9536 1)" font-size="13.8">Subject</text><text transform="translate(770.34 485.7) scale(0.9381 1)" font-size="13.8">26</text></g>
<g><rect x="31.4" y="513.3" width="166.85" height="148" fill="none" stroke="#404040" stroke-width="1.1"/><path d="M28 661.3H31.4M198.25 661.3H201.65M28 649.92H31.4M198.25 649.92H201.65M26.6 638.53H31.4M198.25 638.53H203.05M28 627.15H31.4M198.25 627.15H201.65M28 615.76H31.4M198.25 615.76H201.65M28 604.38H31.4M198.25 604.38H201.65M28 592.99H31.4M198.25 592.99H201.65M26.6 581.61H31.4M198.25 581.61H203.05M28 570.22H31.4M198.25 570.22H201.65M28 558.84H31.4M198.25 558.84H201.65M28 547.45H31.4M198.25 547.45H201.65M28 536.07H31.4M198.25 536.07H201.65M26.6 524.68H31.4M198.25 524.68H203.05M28 513.3H31.4M198.25 513.3H201.65M31.4 661.3V665.3M49.94 661.3V665.3M68.48 661.3V665.3M87.02 661.3V667.3M105.56 661.3V665.3M124.09 661.3V665.3M142.63 661.3V665.3M161.17 661.3V667.3M179.71 661.3V665.3M198.25 661.3V665.3" stroke="#404040" stroke-width="1.1" fill="none"/><polyline points="31.4,638.53 31.96,638.53 32.51,638.53 33.07,638.53 33.62,638.53 34.18,638.53 34.74,638.53 35.29,638.53 35.85,638.53 36.41,638.53 36.96,638.53 37.52,638.53 38.07,638.53 38.63,638.53 39.19,638.53 39.74,638.53 40.3,638.53 40.85,638.53 41.41,638.53 41.97,638.53 42.52,638.53 43.08,638.53 43.64,638.53 44.19,638.53 44.75,638.53 45.3,638.53 45.86,638.53 46.42,638.53 46.97,638.53 47.53,638.53 48.08,638.53 48.64,638.53 49.2,638.53 49.75,638.53 50.31,638.53 50.87,638.53 51.42,638.53 51.98,638.53 52.53,638.53 53.09,638.53 53.65,638.53 54.2,638.53 54.76,638.53 55.32,638.53 55.87,638.53 56.43,638.53 56.98,638.53 57.54,638.53 58.1,638.53 58.65,638.53 59.21,638.53 59.76,638.53 60.32,638.53 60.88,638.53 61.43,638.53 61.99,638.53 62.55,638.53 63.1,638.53 63.66,638.53 64.21,638.53 64.77,638.53 65.33,638.53 65.88,638.53 66.44,638.53 66.99,638.53 67.55,638.53 68.11,638.53 68.66,638.53 69.22,638.53 69.78,638.53 70.33,638.53 70.89,638.53 71.44,638.53 72,638.53 72.56,638.53 73.11,638.53 73.67,638.53 74.22,638.53 74.78,638.53 75.34,638.53 75.89,638.53 76.45,638.53 77.01,638.53 77.56,638.53 78.12,638.53 78.67,638.53 79.23,638.53 79.79,638.53 80.34,638.53 80.9,638.53 81.45,638.53 82.01,638.53 82.57,638.53 83.12,638.53 83.68,638.53 84.24,638.53 84.79,638.53 85.35,638.53 85.9,638.53 86.46,638.53 87.02,638.53 87.57,638.53 88.13,638.53 88.69,638.53 89.24,638.53 89.8,638.53 90.35,638.53 90.91,638.53 91.47,638.53 92.02,638.53 92.58,638.53 93.13,638.53 93.69,638.53 94.25,638.53 94.8,638.53 95.36,638.53 95.92,638.53 96.47,638.53 97.03,638.53 97.58,638.53 98.14,638.53 98.7,638.53 99.25,638.53 99.81,638.53 100.36,638.53 100.92,638.53 101.48,638.53 102.03,638.53 102.59,638.53 103.15,638.53 103.7,638.53 104.26,638.53 104.81,638.53 105.37,638.53 105.93,638.53 106.48,638.53 107.04,638.53 107.59,638.53 108.15,638.53 108.71,638.53 109.26,638.53 109.82,638.53 110.38,638.53 110.93,638.53 111.49,638.53 112.04,638.53 112.6,638.53 113.16,638.53 113.71,638.53 114.27,638.53 114.82,638.53 115.38,638.53 115.94,638.53 116.49,638.53 117.05,638.53 117.61,638.53 118.16,638.53 118.72,638.53 119.27,638.53 119.83,638.53 120.39,638.53 120.94,638.53 121.5,638.53 122.06,638.53 122.61,638.53 123.17,638.53 123.72,638.53 124.28,638.53 124.84,638.53 125.39,638.53 125.95,638.53 126.5,638.53 127.06,638.53 127.62,638.53 128.17,638.53 128.73,638.53 129.29,638.53 129.84,638.53 130.4,638.53 130.95,638.53 131.51,638.53 132.07,638.53 132.62,638.53 133.18,638.53 133.73,638.53 134.29,638.53 134.85,638.53 135.4,638.53 135.96,638.53 136.52,638.53 137.07,638.53 137.63,638.53 138.18,638.53 138.74,638.53 139.3,638.53 139.85,638.53 140.41,638.53 140.96,638.53 141.52,638.53 142.08,638.53 142.63,638.53 143.19,638.53 143.75,638.53 144.3,638.53 144.86,638.53 145.41,638.53 145.97,638.53 146.53,638.53 147.08,638.53 147.64,638.53 148.19,638.53 148.75,638.53 149.31,638.53 149.86,638.53 150.42,638.53 150.98,638.53 151.53,638.53 152.09,638.53 152.64,638.53 153.2,638.53 153.76,638.53 154.31,638.53 154.87,638.53 155.43,638.53 155.98,638.53 156.54,638.53 157.09,638.53 157.65,638.53 158.21,638.53 158.76,638.53 159.32,638.53 159.87,638.53 160.43,638.52 160.99,638.51 161.54,638.48 162.1,638.41 162.66,638.28 163.21,638 163.77,637.45 164.32,636.4 164.88,634.52 165.44,631.4 165.99,626.58 166.55,619.78 167.1,611 167.66,600.65 168.22,589.48 168.77,578.3 169.33,567.87 169.89,558.68 170.44,550.94 171,544.65 171.55,539.69 172.11,535.86 172.67,532.96 173.22,530.77 173.78,529.15 174.33,527.95 174.89,527.07 175.45,526.42 176,525.95 176.56,525.6 177.12,525.35 177.67,525.17 178.23,525.04 178.78,524.94 179.34,524.87 179.9,524.82 180.45,524.78 181.01,524.76 181.56,524.74 182.12,524.72 182.68,524.71 183.23,524.7 183.79,524.7 184.35,524.7 184.9,524.69 185.46,524.69 186.01,524.69 186.57,524.69 187.13,524.69 187.68,524.69 188.24,524.69 188.8,524.69 189.35,524.69 189.91,524.69 190.46,524.68 191.02,524.68 191.58,524.68 192.13,524.68 192.69,524.68 193.24,524.68 193.8,524.68 194.36,524.68 194.91,524.68 195.47,524.68 196.03,524.68 196.58,524.68 197.14,524.68 197.69,524.68 198.25,524.68" fill="none" stroke="#000" stroke-width="1.45" stroke-linejoin="round"/><ellipse cx="148.3" cy="638.3" rx="2.95" ry="3.4" fill="#000"/><ellipse cx="170.3" cy="557.5" rx="2.95" ry="3.4" fill="#000"/><ellipse cx="192.9" cy="532.8" rx="2.95" ry="3.4" fill="#000"/><text transform="translate(35.56 527.5) scale(0.9443 1)" font-size="13.8">1-Hexanol</text><text transform="translate(36.05 545.5) scale(0.8988 1)" font-size="13.8">Subject</text><text transform="translate(85.84 545.5) scale(0.9242 1)" font-size="13.8">28</text><text transform="translate(7.65 640.83) scale(0.8500 1)" font-size="14.6">0.0</text><text transform="translate(7.47 583.91) scale(0.8500 1)" font-size="14.6">0.5</text><text transform="translate(7.65 526.98) scale(0.8500 1)" font-size="14.6">1.0</text></g>
<g><rect x="219.4" y="508.5" width="175.1" height="150" fill="none" stroke="#404040" stroke-width="1.1"/><path d="M216 658.5H219.4M394.5 658.5H397.9M216 646.96H219.4M394.5 646.96H397.9M214.6 635.42H219.4M394.5 635.42H399.3M216 623.88H219.4M394.5 623.88H397.9M216 612.35H219.4M394.5 612.35H397.9M216 600.81H219.4M394.5 600.81H397.9M216 589.27H219.4M394.5 589.27H397.9M214.6 577.73H219.4M394.5 577.73H399.3M216 566.19H219.4M394.5 566.19H397.9M216 554.65H219.4M394.5 554.65H397.9M216 543.12H219.4M394.5 543.12H397.9M216 531.58H219.4M394.5 531.58H397.9M214.6 520.04H219.4M394.5 520.04H399.3M216 508.5H219.4M394.5 508.5H397.9M219.4 658.5V662.5M238.86 658.5V662.5M258.31 658.5V662.5M277.77 658.5V664.5M297.22 658.5V662.5M316.68 658.5V662.5M336.13 658.5V662.5M355.59 658.5V664.5M375.04 658.5V662.5M394.5 658.5V662.5" stroke="#404040" stroke-width="1.1" fill="none"/><polyline points="219.4,635.41 219.98,635.41 220.57,635.41 221.15,635.41 221.73,635.41 222.32,635.4 222.9,635.4 223.49,635.4 224.07,635.4 224.65,635.4 225.24,635.4 225.82,635.4 226.4,635.4 226.99,635.4 227.57,635.4 228.16,635.39 228.74,635.39 229.32,635.39 229.91,635.39 230.49,635.39 231.07,635.39 231.66,635.39 232.24,635.38 232.82,635.38 233.41,635.38 233.99,635.38 234.58,635.38 235.16,635.38 235.74,635.37 236.33,635.37 236.91,635.37 237.49,635.37 238.08,635.36 238.66,635.36 239.24,635.36 239.83,635.36 240.41,635.35 241,635.35 241.58,635.35 242.16,635.34 242.75,635.34 243.33,635.34 243.91,635.33 244.5,635.33 245.08,635.32 245.67,635.32 246.25,635.31 246.83,635.31 247.42,635.3 248,635.3 248.58,635.29 249.17,635.29 249.75,635.28 250.33,635.28 250.92,635.27 251.5,635.26 252.09,635.25 252.67,635.25 253.25,635.24 253.84,635.23 254.42,635.22 255,635.21 255.59,635.2 256.17,635.19 256.75,635.18 257.34,635.17 257.92,635.16 258.51,635.15 259.09,635.14 259.67,635.13 260.26,635.11 260.84,635.1 261.42,635.09 262.01,635.07 262.59,635.05 263.18,635.04 263.76,635.02 264.34,635 264.93,634.98 265.51,634.97 266.09,634.94 266.68,634.92 267.26,634.9 267.84,634.88 268.43,634.85 269.01,634.83 269.6,634.8 270.18,634.77 270.76,634.75 271.35,634.72 271.93,634.68 272.51,634.65 273.1,634.62 273.68,634.58 274.26,634.55 274.85,634.51 275.43,634.47 276.02,634.42 276.6,634.38 277.18,634.33 277.77,634.29 278.35,634.23 278.93,634.18 279.52,634.13 280.1,634.07 280.69,634.01 281.27,633.95 281.85,633.88 282.44,633.82 283.02,633.75 283.6,633.67 284.19,633.6 284.77,633.52 285.35,633.43 285.94,633.34 286.52,633.25 287.11,633.16 287.69,633.06 288.27,632.96 288.86,632.85 289.44,632.74 290.02,632.62 290.61,632.5 291.19,632.37 291.77,632.24 292.36,632.1 292.94,631.96 293.53,631.81 294.11,631.65 294.69,631.49 295.28,631.32 295.86,631.14 296.44,630.96 297.03,630.77 297.61,630.57 298.19,630.36 298.78,630.15 299.36,629.93 299.95,629.69 300.53,629.45 301.11,629.2 301.7,628.94 302.28,628.66 302.86,628.38 303.45,628.09 304.03,627.78 304.62,627.47 305.2,627.14 305.78,626.79 306.37,626.44 306.95,626.07 307.53,625.69 308.12,625.29 308.7,624.88 309.28,624.46 309.87,624.02 310.45,623.56 311.04,623.09 311.62,622.6 312.2,622.09 312.79,621.57 313.37,621.03 313.95,620.47 314.54,619.9 315.12,619.3 315.71,618.69 316.29,618.05 316.87,617.4 317.46,616.72 318.04,616.03 318.62,615.32 319.21,614.58 319.79,613.83 320.37,613.05 320.96,612.25 321.54,611.44 322.13,610.6 322.71,609.74 323.29,608.85 323.88,607.95 324.46,607.03 325.04,606.08 325.63,605.12 326.21,604.14 326.79,603.13 327.38,602.11 327.96,601.06 328.55,600 329.13,598.92 329.71,597.83 330.3,596.71 330.88,595.58 331.46,594.44 332.05,593.28 332.63,592.1 333.22,590.92 333.8,589.72 334.38,588.51 334.97,587.29 335.55,586.06 336.13,584.83 336.72,583.58 337.3,582.34 337.88,581.08 338.47,579.83 339.05,578.57 339.64,577.31 340.22,576.06 340.8,574.8 341.39,573.55 341.97,572.3 342.55,571.05 343.14,569.81 343.72,568.58 344.3,567.36 344.89,566.15 345.47,564.95 346.06,563.76 346.64,562.58 347.22,561.41 347.81,560.26 348.39,559.13 348.97,558.01 349.56,556.91 350.14,555.82 350.73,554.75 351.31,553.7 351.89,552.67 352.48,551.66 353.06,550.67 353.64,549.7 354.23,548.75 354.81,547.82 355.39,546.91 355.98,546.02 356.56,545.15 357.15,544.3 357.73,543.48 358.31,542.68 358.9,541.89 359.48,541.13 360.06,540.39 360.65,539.67 361.23,538.97 361.81,538.29 362.4,537.63 362.98,536.99 363.57,536.37 364.15,535.76 364.73,535.18 365.32,534.62 365.9,534.07 366.48,533.54 367.07,533.03 367.65,532.53 368.24,532.06 368.82,531.6 369.4,531.15 369.99,530.72 370.57,530.3 371.15,529.9 371.74,529.52 372.32,529.14 372.9,528.79 373.49,528.44 374.07,528.11 374.66,527.78 375.24,527.47 375.82,527.18 376.41,526.89 376.99,526.61 377.57,526.35 378.16,526.09 378.74,525.85 379.32,525.61 379.91,525.39 380.49,525.17 381.08,524.96 381.66,524.76 382.24,524.56 382.83,524.38 383.41,524.2 383.99,524.03 384.58,523.86 385.16,523.7 385.75,523.55 386.33,523.41 386.91,523.27 387.5,523.13 388.08,523 388.66,522.88 389.25,522.76 389.83,522.65 390.41,522.54 391,522.44 391.58,522.34 392.17,522.24 392.75,522.15 393.33,522.06 393.92,521.97 394.5,521.89" fill="none" stroke="#000" stroke-width="1.45" stroke-linejoin="round"/><ellipse cx="295.3" cy="635.7" rx="2.95" ry="3.4" fill="#000"/><ellipse cx="318.6" cy="610.5" rx="2.95" ry="3.4" fill="#000"/><ellipse cx="342" cy="577.7" rx="2.95" ry="3.4" fill="#000"/><ellipse cx="365.1" cy="528.3" rx="2.95" ry="3.4" fill="#000"/><ellipse cx="388.5" cy="528.3" rx="2.95" ry="3.4" fill="#000"/><text transform="translate(224.72 522.7) scale(0.9880 1)" font-size="13.8">1-Hexanol</text><text transform="translate(225.32 541.2) scale(0.9597 1)" font-size="13.8">Subject</text><text transform="translate(278.23 541.2) scale(0.9144 1)" font-size="13.8">30</text><text transform="translate(268.68 677.8) scale(0.8700 1)" font-size="15">0.0</text><text transform="translate(346.36 677.8) scale(0.8700 1)" font-size="15">1.0</text></g>
<g><rect x="416.35" y="508.7" width="175.15" height="150.6" fill="none" stroke="#404040" stroke-width="1.1"/><path d="M412.95 659.3H416.35M591.5 659.3H594.9M412.95 647.72H416.35M591.5 647.72H594.9M411.55 636.13H416.35M591.5 636.13H596.3M412.95 624.55H416.35M591.5 624.55H594.9M412.95 612.96H416.35M591.5 612.96H594.9M412.95 601.38H416.35M591.5 601.38H594.9M412.95 589.79H416.35M591.5 589.79H594.9M411.55 578.21H416.35M591.5 578.21H596.3M412.95 566.62H416.35M591.5 566.62H594.9M412.95 555.04H416.35M591.5 555.04H594.9M412.95 543.45H416.35M591.5 543.45H594.9M412.95 531.87H416.35M591.5 531.87H594.9M411.55 520.28H416.35M591.5 520.28H596.3M412.95 508.7H416.35M591.5 508.7H594.9M416.35 659.3V663.3M435.81 659.3V663.3M455.27 659.3V663.3M474.73 659.3V665.3M494.19 659.3V663.3M513.66 659.3V663.3M533.12 659.3V663.3M552.58 659.3V665.3M572.04 659.3V663.3M591.5 659.3V663.3" stroke="#404040" stroke-width="1.1" fill="none"/><polyline points="416.35,636.1 416.93,636.09 417.52,636.09 418.1,636.09 418.69,636.09 419.27,636.09 419.85,636.09 420.44,636.08 421.02,636.08 421.6,636.08 422.19,636.08 422.77,636.08 423.36,636.07 423.94,636.07 424.52,636.07 425.11,636.07 425.69,636.06 426.28,636.06 426.86,636.06 427.44,636.05 428.03,636.05 428.61,636.05 429.19,636.04 429.78,636.04 430.36,636.04 430.95,636.03 431.53,636.03 432.11,636.03 432.7,636.02 433.28,636.02 433.87,636.01 434.45,636.01 435.03,636 435.62,636 436.2,635.99 436.78,635.99 437.37,635.98 437.95,635.97 438.54,635.97 439.12,635.96 439.7,635.95 440.29,635.95 440.87,635.94 441.45,635.93 442.04,635.92 442.62,635.91 443.21,635.91 443.79,635.9 444.37,635.89 444.96,635.88 445.54,635.87 446.13,635.86 446.71,635.84 447.29,635.83 447.88,635.82 448.46,635.81 449.04,635.8 449.63,635.78 450.21,635.77 450.8,635.75 451.38,635.74 451.96,635.72 452.55,635.7 453.13,635.69 453.72,635.67 454.3,635.65 454.88,635.63 455.47,635.61 456.05,635.59 456.63,635.57 457.22,635.55 457.8,635.52 458.39,635.5 458.97,635.47 459.55,635.45 460.14,635.42 460.72,635.39 461.31,635.36 461.89,635.33 462.47,635.3 463.06,635.26 463.64,635.23 464.22,635.19 464.81,635.15 465.39,635.11 465.98,635.07 466.56,635.03 467.14,634.99 467.73,634.94 468.31,634.89 468.9,634.85 469.48,634.79 470.06,634.74 470.65,634.69 471.23,634.63 471.81,634.57 472.4,634.51 472.98,634.44 473.57,634.38 474.15,634.31 474.73,634.23 475.32,634.16 475.9,634.08 476.48,634 477.07,633.92 477.65,633.83 478.24,633.74 478.82,633.65 479.4,633.55 479.99,633.45 480.57,633.35 481.16,633.24 481.74,633.13 482.32,633.01 482.91,632.89 483.49,632.77 484.07,632.64 484.66,632.5 485.24,632.36 485.83,632.22 486.41,632.07 486.99,631.92 487.58,631.76 488.16,631.59 488.75,631.42 489.33,631.24 489.91,631.06 490.5,630.87 491.08,630.67 491.66,630.47 492.25,630.26 492.83,630.04 493.42,629.82 494,629.58 494.58,629.34 495.17,629.1 495.75,628.84 496.34,628.58 496.92,628.3 497.5,628.02 498.09,627.73 498.67,627.43 499.25,627.12 499.84,626.8 500.42,626.47 501.01,626.13 501.59,625.78 502.17,625.42 502.76,625.05 503.34,624.67 503.93,624.28 504.51,623.88 505.09,623.46 505.68,623.03 506.26,622.59 506.84,622.14 507.43,621.68 508.01,621.2 508.6,620.72 509.18,620.22 509.76,619.7 510.35,619.18 510.93,618.64 511.51,618.09 512.1,617.52 512.68,616.94 513.27,616.35 513.85,615.74 514.43,615.12 515.02,614.49 515.6,613.84 516.19,613.18 516.77,612.51 517.35,611.82 517.94,611.12 518.52,610.41 519.1,609.68 519.69,608.94 520.27,608.19 520.86,607.43 521.44,606.65 522.02,605.86 522.61,605.06 523.19,604.24 523.78,603.42 524.36,602.58 524.94,601.73 525.53,600.87 526.11,600 526.69,599.12 527.28,598.23 527.86,597.33 528.45,596.42 529.03,595.5 529.61,594.58 530.2,593.65 530.78,592.71 531.37,591.76 531.95,590.81 532.53,589.85 533.12,588.89 533.7,587.92 534.28,586.95 534.87,585.97 535.45,584.99 536.04,584.01 536.62,583.03 537.2,582.04 537.79,581.06 538.37,580.07 538.96,579.09 539.54,578.11 540.12,577.12 540.71,576.14 541.29,575.16 541.87,574.19 542.46,573.22 543.04,572.25 543.63,571.29 544.21,570.33 544.79,569.38 545.38,568.43 545.96,567.49 546.54,566.56 547.13,565.63 547.71,564.72 548.3,563.81 548.88,562.9 549.46,562.01 550.05,561.13 550.63,560.26 551.22,559.39 551.8,558.54 552.38,557.7 552.97,556.86 553.55,556.04 554.13,555.23 554.72,554.43 555.3,553.64 555.89,552.87 556.47,552.1 557.05,551.35 557.64,550.61 558.22,549.88 558.81,549.17 559.39,548.46 559.97,547.77 560.56,547.09 561.14,546.42 561.72,545.77 562.31,545.13 562.89,544.5 563.48,543.88 564.06,543.27 564.64,542.68 565.23,542.1 565.81,541.53 566.4,540.97 566.98,540.42 567.56,539.89 568.15,539.37 568.73,538.86 569.31,538.36 569.9,537.87 570.48,537.39 571.07,536.92 571.65,536.47 572.23,536.02 572.82,535.59 573.4,535.17 573.99,534.75 574.57,534.35 575.15,533.95 575.74,533.57 576.32,533.2 576.9,532.83 577.49,532.48 578.07,532.13 578.66,531.79 579.24,531.46 579.82,531.14 580.41,530.83 580.99,530.52 581.57,530.23 582.16,529.94 582.74,529.66 583.33,529.39 583.91,529.12 584.49,528.86 585.08,528.61 585.66,528.37 586.25,528.13 586.83,527.9 587.41,527.67 588,527.45 588.58,527.24 589.16,527.04 589.75,526.83 590.33,526.64 590.92,526.45 591.5,526.27" fill="none" stroke="#000" stroke-width="1.45" stroke-linejoin="round"/><ellipse cx="469" cy="636" rx="2.95" ry="3.4" fill="#000"/><ellipse cx="491.9" cy="611" rx="2.95" ry="3.4" fill="#000"/><ellipse cx="515.7" cy="619.4" rx="2.95" ry="3.4" fill="#000"/><ellipse cx="539.1" cy="586.1" rx="2.95" ry="3.4" fill="#000"/><ellipse cx="562.2" cy="536.7" rx="2.95" ry="3.4" fill="#000"/><ellipse cx="585.8" cy="536.7" rx="2.95" ry="3.4" fill="#000"/><text transform="translate(420.92 522.9) scale(0.9895 1)" font-size="13.8">1-Hexanol</text><text transform="translate(421.62 541.7) scale(0.9557 1)" font-size="13.8">Subject</text><text transform="translate(474.53 541.7) scale(0.9179 1)" font-size="13.8">32</text><text transform="translate(465.64 678.6) scale(0.8700 1)" font-size="15">0.0</text><text transform="translate(543.35 678.6) scale(0.8700 1)" font-size="15">1.0</text></g>
<g><rect x="613" y="508.7" width="174.8" height="150.6" fill="none" stroke="#404040" stroke-width="1.1"/><path d="M609.6 659.3H613M787.8 659.3H791.2M609.6 647.72H613M787.8 647.72H791.2M608.2 636.13H613M787.8 636.13H792.6M609.6 624.55H613M787.8 624.55H791.2M609.6 612.96H613M787.8 612.96H791.2M609.6 601.38H613M787.8 601.38H791.2M609.6 589.79H613M787.8 589.79H791.2M608.2 578.21H613M787.8 578.21H792.6M609.6 566.62H613M787.8 566.62H791.2M609.6 555.04H613M787.8 555.04H791.2M609.6 543.45H613M787.8 543.45H791.2M609.6 531.87H613M787.8 531.87H791.2M608.2 520.28H613M787.8 520.28H792.6M609.6 508.7H613M787.8 508.7H791.2M613 659.3V663.3M632.42 659.3V663.3M651.84 659.3V663.3M671.27 659.3V665.3M690.69 659.3V663.3M710.11 659.3V663.3M729.53 659.3V663.3M748.96 659.3V665.3M768.38 659.3V663.3M787.8 659.3V663.3" stroke="#404040" stroke-width="1.1" fill="none"/><polyline points="613,636.13 613.58,636.13 614.17,636.13 614.75,636.13 615.33,636.13 615.91,636.13 616.5,636.13 617.08,636.13 617.66,636.13 618.24,636.13 618.83,636.13 619.41,636.13 619.99,636.13 620.57,636.13 621.16,636.13 621.74,636.13 622.32,636.13 622.91,636.13 623.49,636.13 624.07,636.13 624.65,636.13 625.24,636.13 625.82,636.13 626.4,636.13 626.98,636.13 627.57,636.13 628.15,636.13 628.73,636.13 629.31,636.13 629.9,636.13 630.48,636.13 631.06,636.13 631.65,636.13 632.23,636.13 632.81,636.13 633.39,636.13 633.98,636.13 634.56,636.13 635.14,636.13 635.72,636.13 636.31,636.13 636.89,636.13 637.47,636.13 638.05,636.13 638.64,636.13 639.22,636.13 639.8,636.13 640.39,636.13 640.97,636.13 641.55,636.13 642.13,636.13 642.72,636.13 643.3,636.13 643.88,636.13 644.46,636.13 645.05,636.13 645.63,636.13 646.21,636.13 646.79,636.13 647.38,636.13 647.96,636.13 648.54,636.13 649.13,636.13 649.71,636.13 650.29,636.13 650.87,636.13 651.46,636.13 652.04,636.13 652.62,636.13 653.2,636.13 653.79,636.13 654.37,636.13 654.95,636.13 655.53,636.13 656.12,636.13 656.7,636.13 657.28,636.13 657.87,636.13 658.45,636.13 659.03,636.13 659.61,636.13 660.2,636.13 660.78,636.13 661.36,636.13 661.94,636.13 662.53,636.12 663.11,636.12 663.69,636.12 664.27,636.12 664.86,636.11 665.44,636.11 666.02,636.11 666.61,636.1 667.19,636.09 667.77,636.08 668.35,636.07 668.94,636.06 669.52,636.04 670.1,636.02 670.68,636 671.27,635.96 671.85,635.92 672.43,635.87 673.01,635.81 673.6,635.74 674.18,635.65 674.76,635.53 675.35,635.39 675.93,635.21 676.51,634.99 677.09,634.72 677.68,634.39 678.26,633.97 678.84,633.46 679.42,632.83 680.01,632.05 680.59,631.09 681.17,629.91 681.75,628.46 682.34,626.68 682.92,624.5 683.5,621.86 684.09,618.68 684.67,614.86 685.25,610.35 685.83,605.09 686.42,599.06 687,592.32 687.58,584.97 688.16,577.22 688.75,569.34 689.33,561.63 689.91,554.38 690.49,547.83 691.08,542.12 691.66,537.32 692.24,533.4 692.83,530.27 693.41,527.81 693.99,525.93 694.57,524.49 695.16,523.4 695.74,522.59 696.32,521.99 696.9,521.54 697.49,521.21 698.07,520.96 698.65,520.78 699.23,520.65 699.82,520.55 700.4,520.48 700.98,520.43 701.57,520.39 702.15,520.36 702.73,520.34 703.31,520.33 703.9,520.32 704.48,520.31 705.06,520.3 705.64,520.3 706.23,520.29 706.81,520.29 707.39,520.29 707.97,520.29 708.56,520.29 709.14,520.29 709.72,520.29 710.31,520.29 710.89,520.29 711.47,520.29 712.05,520.29 712.64,520.28 713.22,520.28 713.8,520.28 714.38,520.28 714.97,520.28 715.55,520.28 716.13,520.28 716.71,520.28 717.3,520.28 717.88,520.28 718.46,520.28 719.05,520.28 719.63,520.28 720.21,520.28 720.79,520.28 721.38,520.28 721.96,520.28 722.54,520.28 723.12,520.28 723.71,520.28 724.29,520.28 724.87,520.28 725.45,520.28 726.04,520.28 726.62,520.28 727.2,520.28 727.79,520.28 728.37,520.28 728.95,520.28 729.53,520.28 730.12,520.28 730.7,520.28 731.28,520.28 731.86,520.28 732.45,520.28 733.03,520.28 733.61,520.28 734.19,520.28 734.78,520.28 735.36,520.28 735.94,520.28 736.53,520.28 737.11,520.28 737.69,520.28 738.27,520.28 738.86,520.28 739.44,520.28 740.02,520.28 740.6,520.28 741.19,520.28 741.77,520.28 742.35,520.28 742.93,520.28 743.52,520.28 744.1,520.28 744.68,520.28 745.27,520.28 745.85,520.28 746.43,520.28 747.01,520.28 747.6,520.28 748.18,520.28 748.76,520.28 749.34,520.28 749.93,520.28 750.51,520.28 751.09,520.28 751.67,520.28 752.26,520.28 752.84,520.28 753.42,520.28 754.01,520.28 754.59,520.28 755.17,520.28 755.75,520.28 756.34,520.28 756.92,520.28 757.5,520.28 758.08,520.28 758.67,520.28 759.25,520.28 759.83,520.28 760.41,520.28 761,520.28 761.58,520.28 762.16,520.28 762.75,520.28 763.33,520.28 763.91,520.28 764.49,520.28 765.08,520.28 765.66,520.28 766.24,520.28 766.82,520.28 767.41,520.28 767.99,520.28 768.57,520.28 769.15,520.28 769.74,520.28 770.32,520.28 770.9,520.28 771.49,520.28 772.07,520.28 772.65,520.28 773.23,520.28 773.82,520.28 774.4,520.28 774.98,520.28 775.56,520.28 776.15,520.28 776.73,520.28 777.31,520.28 777.89,520.28 778.48,520.28 779.06,520.28 779.64,520.28 780.23,520.28 780.81,520.28 781.39,520.28 781.97,520.28 782.56,520.28 783.14,520.28 783.72,520.28 784.3,520.28 784.89,520.28 785.47,520.28 786.05,520.28 786.63,520.28 787.22,520.28 787.8,520.28" fill="none" stroke="#000" stroke-width="1.45" stroke-linejoin="round"/><ellipse cx="641.9" cy="652" rx="2.95" ry="3.4" fill="#000"/><ellipse cx="665.7" cy="635.8" rx="2.95" ry="3.4" fill="#000"/><ellipse cx="688.8" cy="577.9" rx="2.95" ry="3.4" fill="#000"/><ellipse cx="712.1" cy="520.5" rx="2.95" ry="3.4" fill="#000"/><text transform="translate(617.73 523) scale(0.9817 1)" font-size="13.8">1-Hexanol</text><text transform="translate(618.63 541) scale(0.9496 1)" font-size="13.8">Subject</text><text transform="translate(671.54 541) scale(0.8877 1)" font-size="13.8">34</text><text transform="translate(662.18 678.6) scale(0.8700 1)" font-size="15">0.0</text><text transform="translate(739.73 678.6) scale(0.8700 1)" font-size="15">1.0</text></g>
<g><rect x="32.35" y="679.35" width="166.05" height="146.85" fill="none" stroke="#404040" stroke-width="1.1"/><path d="M28.95 826.2H32.35M198.4 826.2H201.8M28.95 814.9H32.35M198.4 814.9H201.8M27.55 803.61H32.35M198.4 803.61H203.2M28.95 792.31H32.35M198.4 792.31H201.8M28.95 781.02H32.35M198.4 781.02H201.8M28.95 769.72H32.35M198.4 769.72H201.8M28.95 758.42H32.35M198.4 758.42H201.8M27.55 747.13H32.35M198.4 747.13H203.2M28.95 735.83H32.35M198.4 735.83H201.8M28.95 724.53H32.35M198.4 724.53H201.8M28.95 713.24H32.35M198.4 713.24H201.8M28.95 701.94H32.35M198.4 701.94H201.8M27.55 690.65H32.35M198.4 690.65H203.2M28.95 679.35H32.35M198.4 679.35H201.8M32.35 826.2V830.2M50.8 826.2V830.2M69.25 826.2V832.2M87.7 826.2V830.2M106.15 826.2V830.2M124.6 826.2V830.2M143.05 826.2V832.2M161.5 826.2V830.2M179.95 826.2V830.2M198.4 826.2V830.2" stroke="#404040" stroke-width="1.1" fill="none"/><polyline points="32.35,803.55 32.9,803.55 33.46,803.55 34.01,803.54 34.56,803.54 35.12,803.54 35.67,803.54 36.22,803.54 36.78,803.53 37.33,803.53 37.89,803.53 38.44,803.53 38.99,803.52 39.55,803.52 40.1,803.52 40.65,803.52 41.21,803.52 41.76,803.51 42.31,803.51 42.87,803.51 43.42,803.5 43.97,803.5 44.53,803.5 45.08,803.5 45.63,803.49 46.19,803.49 46.74,803.49 47.29,803.48 47.85,803.48 48.4,803.47 48.95,803.47 49.51,803.47 50.06,803.46 50.62,803.46 51.17,803.45 51.72,803.45 52.28,803.45 52.83,803.44 53.38,803.44 53.94,803.43 54.49,803.43 55.04,803.42 55.6,803.42 56.15,803.41 56.7,803.41 57.26,803.4 57.81,803.39 58.36,803.39 58.92,803.38 59.47,803.38 60.03,803.37 60.58,803.36 61.13,803.36 61.69,803.35 62.24,803.34 62.79,803.33 63.35,803.33 63.9,803.32 64.45,803.31 65.01,803.3 65.56,803.29 66.11,803.28 66.67,803.27 67.22,803.26 67.77,803.25 68.33,803.24 68.88,803.23 69.43,803.22 69.99,803.21 70.54,803.2 71.09,803.19 71.65,803.18 72.2,803.17 72.76,803.15 73.31,803.14 73.86,803.13 74.42,803.12 74.97,803.1 75.52,803.09 76.08,803.07 76.63,803.06 77.18,803.04 77.74,803.03 78.29,803.01 78.84,802.99 79.4,802.97 79.95,802.96 80.5,802.94 81.06,802.92 81.61,802.9 82.17,802.88 82.72,802.86 83.27,802.84 83.83,802.82 84.38,802.8 84.93,802.77 85.49,802.75 86.04,802.72 86.59,802.7 87.15,802.67 87.7,802.65 88.25,802.62 88.81,802.59 89.36,802.57 89.91,802.54 90.47,802.51 91.02,802.48 91.57,802.44 92.13,802.41 92.68,802.38 93.23,802.34 93.79,802.31 94.34,802.27 94.9,802.23 95.45,802.19 96,802.16 96.56,802.11 97.11,802.07 97.66,802.03 98.22,801.99 98.77,801.94 99.32,801.89 99.88,801.85 100.43,801.8 100.98,801.75 101.54,801.7 102.09,801.64 102.64,801.59 103.2,801.53 103.75,801.47 104.31,801.41 104.86,801.35 105.41,801.29 105.97,801.23 106.52,801.16 107.07,801.09 107.63,801.02 108.18,800.95 108.73,800.88 109.29,800.8 109.84,800.73 110.39,800.65 110.95,800.56 111.5,800.48 112.05,800.39 112.61,800.31 113.16,800.21 113.71,800.12 114.27,800.03 114.82,799.93 115.38,799.83 115.93,799.72 116.48,799.62 117.04,799.51 117.59,799.4 118.14,799.28 118.7,799.16 119.25,799.04 119.8,798.92 120.36,798.79 120.91,798.66 121.46,798.53 122.02,798.39 122.57,798.25 123.12,798.11 123.68,797.96 124.23,797.81 124.78,797.65 125.34,797.49 125.89,797.33 126.45,797.16 127,796.99 127.55,796.81 128.11,796.63 128.66,796.44 129.21,796.25 129.77,796.06 130.32,795.86 130.87,795.66 131.43,795.45 131.98,795.23 132.53,795.01 133.09,794.79 133.64,794.56 134.19,794.33 134.75,794.08 135.3,793.84 135.85,793.59 136.41,793.33 136.96,793.06 137.52,792.79 138.07,792.52 138.62,792.23 139.18,791.95 139.73,791.65 140.28,791.35 140.84,791.04 141.39,790.72 141.94,790.4 142.5,790.07 143.05,789.74 143.6,789.39 144.16,789.04 144.71,788.68 145.26,788.32 145.82,787.94 146.37,787.56 146.92,787.18 147.48,786.78 148.03,786.37 148.59,785.96 149.14,785.54 149.69,785.11 150.25,784.68 150.8,784.23 151.35,783.78 151.91,783.32 152.46,782.85 153.01,782.37 153.57,781.89 154.12,781.39 154.67,780.89 155.23,780.38 155.78,779.86 156.33,779.33 156.89,778.8 157.44,778.25 157.99,777.7 158.55,777.13 159.1,776.56 159.66,775.98 160.21,775.4 160.76,774.8 161.32,774.2 161.87,773.59 162.42,772.97 162.98,772.34 163.53,771.7 164.08,771.06 164.64,770.41 165.19,769.75 165.74,769.08 166.3,768.41 166.85,767.73 167.4,767.04 167.96,766.35 168.51,765.65 169.06,764.94 169.62,764.23 170.17,763.51 170.72,762.78 171.28,762.05 171.83,761.31 172.39,760.57 172.94,759.83 173.49,759.07 174.05,758.32 174.6,757.56 175.15,756.79 175.71,756.03 176.26,755.25 176.81,754.48 177.37,753.7 177.92,752.92 178.47,752.14 179.03,751.36 179.58,750.57 180.13,749.79 180.69,749 181.24,748.21 181.79,747.42 182.35,746.63 182.9,745.84 183.46,745.06 184.01,744.27 184.56,743.48 185.12,742.7 185.67,741.91 186.22,741.13 186.78,740.35 187.33,739.58 187.88,738.8 188.44,738.03 188.99,737.27 189.54,736.5 190.1,735.74 190.65,734.99 191.2,734.24 191.76,733.49 192.31,732.75 192.86,732.02 193.42,731.29 193.97,730.56 194.53,729.85 195.08,729.13 195.63,728.43 196.19,727.73 196.74,727.04 197.29,726.35 197.85,725.67 198.4,725" fill="none" stroke="#000" stroke-width="1.45" stroke-linejoin="round"/><ellipse cx="63" cy="803.3" rx="2.95" ry="3.4" fill="#000"/><ellipse cx="85.6" cy="803.3" rx="2.95" ry="3.4" fill="#000"/><ellipse cx="107.9" cy="811.2" rx="2.95" ry="3.4" fill="#000"/><ellipse cx="130.4" cy="803.3" rx="2.95" ry="3.4" fill="#000"/><ellipse cx="152.2" cy="778.9" rx="2.95" ry="3.4" fill="#000"/><ellipse cx="174.5" cy="763.7" rx="2.95" ry="3.4" fill="#000"/><text transform="translate(35.57 694.4) scale(0.9302 1)" font-size="13.8">1-Hexanol</text><text transform="translate(36.05 712.65) scale(0.8948 1)" font-size="13.8">Subject</text><text transform="translate(85.26 712.65) scale(0.9425 1)" font-size="13.8">19</text><text transform="translate(7.65 806.01) scale(0.8500 1)" font-size="14.6">0.0</text><text transform="translate(7.47 749.53) scale(0.8500 1)" font-size="14.6">0.5</text><text transform="translate(7.65 693.05) scale(0.8500 1)" font-size="14.6">1.0</text><text transform="translate(60.16 844.8) scale(0.8700 1)" font-size="15">0.0</text><text transform="translate(133.82 844.8) scale(0.8700 1)" font-size="15">1.0</text></g>
</g>
</svg>
</body></html>
